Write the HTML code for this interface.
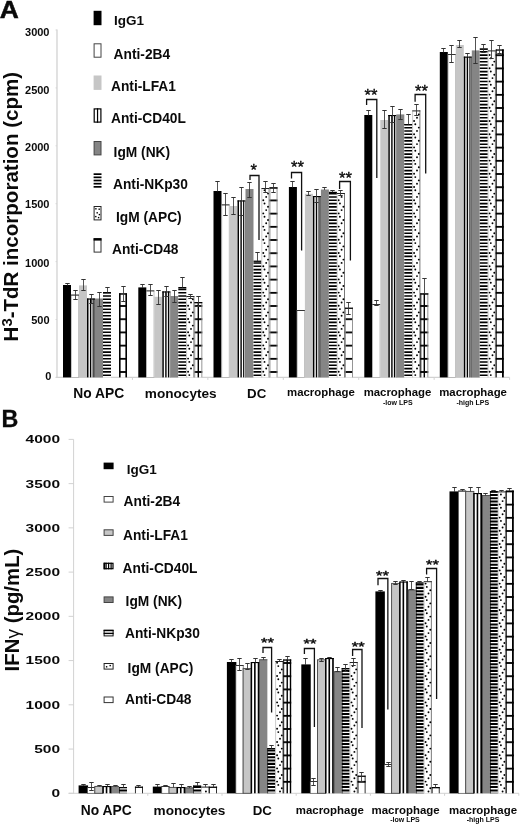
<!DOCTYPE html>
<html lang="en"><head><meta charset="utf-8"><title>Figure</title>
<style>html,body{margin:0;padding:0;background:#fff}svg{display:block}text{font-family:"Liberation Sans", Arial, Helvetica, sans-serif;font-weight:bold;fill:#0a0a0a}</style>
</head><body>
<svg width="520" height="825" viewBox="0 0 520 825">
<rect x="0" y="0" width="520" height="825" fill="#fff"/>
<defs>
<pattern id="hsA" patternUnits="userSpaceOnUse" x="0" y="47.70" width="20" height="3.30"><rect x="0" y="0" width="20" height="3.30" fill="#fff"/><rect x="0" y="0" width="20" height="1.60" fill="#000"/></pattern>
<pattern id="hsB" patternUnits="userSpaceOnUse" x="0" y="583.90" width="20" height="3.32"><rect x="0" y="0" width="20" height="3.32" fill="#fff"/><rect x="0" y="0" width="20" height="2.00" fill="#000"/></pattern>
<pattern id="brA" patternUnits="userSpaceOnUse" x="0" y="54.30" width="20" height="13.2"><rect x="0" y="0" width="20" height="13.2" fill="#fff"/><rect x="0" y="0" width="20" height="1.8" fill="#000"/></pattern>
<pattern id="brB" patternUnits="userSpaceOnUse" x="0" y="503.70" width="20" height="13.2"><rect x="0" y="0" width="20" height="13.2" fill="#fff"/><rect x="0" y="0" width="20" height="1.8" fill="#000"/></pattern>
</defs>
<line x1="57.00" y1="29.60" x2="57.00" y2="377.90" stroke="#d2d2d2" stroke-width="1.30"/>
<line x1="55.80" y1="377.40" x2="509.60" y2="377.40" stroke="#d2d2d2" stroke-width="1.20"/>
<line x1="55.50" y1="377.40" x2="57.00" y2="377.40" stroke="#d2d2d2" stroke-width="0.80"/>
<line x1="55.50" y1="319.50" x2="57.00" y2="319.50" stroke="#d2d2d2" stroke-width="0.80"/>
<line x1="55.50" y1="261.60" x2="57.00" y2="261.60" stroke="#d2d2d2" stroke-width="0.80"/>
<line x1="55.50" y1="203.70" x2="57.00" y2="203.70" stroke="#d2d2d2" stroke-width="0.80"/>
<line x1="55.50" y1="145.80" x2="57.00" y2="145.80" stroke="#d2d2d2" stroke-width="0.80"/>
<line x1="55.50" y1="87.90" x2="57.00" y2="87.90" stroke="#d2d2d2" stroke-width="0.80"/>
<line x1="55.50" y1="30.00" x2="57.00" y2="30.00" stroke="#d2d2d2" stroke-width="0.80"/>
<line x1="132.43" y1="377.40" x2="132.43" y2="379.90" stroke="#d2d2d2" stroke-width="1.00"/>
<line x1="207.86" y1="377.40" x2="207.86" y2="379.90" stroke="#d2d2d2" stroke-width="1.00"/>
<line x1="283.29" y1="377.40" x2="283.29" y2="379.90" stroke="#d2d2d2" stroke-width="1.00"/>
<line x1="358.72" y1="377.40" x2="358.72" y2="379.90" stroke="#d2d2d2" stroke-width="1.00"/>
<line x1="434.15" y1="377.40" x2="434.15" y2="379.90" stroke="#d2d2d2" stroke-width="1.00"/>
<line x1="509.58" y1="377.40" x2="509.58" y2="379.90" stroke="#d2d2d2" stroke-width="1.00"/>
<text x="49.50" y="36.45" font-size="11.00" text-anchor="end">3000</text>
<text x="49.50" y="94.15" font-size="11.00" text-anchor="end">2500</text>
<text x="49.50" y="150.85" font-size="11.00" text-anchor="end">2000</text>
<text x="49.50" y="208.25" font-size="11.00" text-anchor="end">1500</text>
<text x="49.50" y="266.75" font-size="11.00" text-anchor="end">1000</text>
<text x="49.50" y="323.95" font-size="11.00" text-anchor="end">500</text>
<text x="51.40" y="379.95" font-size="11.00" text-anchor="end">0</text>
<text transform="translate(-0.3 18.1) scale(1.09 1)" font-size="24.2" stroke="#0a0a0a" stroke-width="0.5">A</text>
<text transform="translate(18.1 206.7) rotate(-90) scale(1.032 1)" font-size="19.9" text-anchor="middle">H<tspan font-size="14.4" dy="-6.0">3</tspan><tspan dy="6.0">-TdR incorporation (cpm)</tspan></text>
<rect x="93.60" y="10.80" width="7.90" height="14.40" fill="#000"/>
<text x="114.00" y="25.40" font-size="13.50" text-anchor="start">IgG1</text>
<rect x="94.10" y="43.80" width="6.90" height="13.40" fill="#fff" stroke="#444" stroke-width="1.00"/>
<text x="113.60" y="59.00" font-size="13.75" text-anchor="start">Anti-2B4</text>
<rect x="93.60" y="75.50" width="7.90" height="14.40" fill="#c6c6c6"/>
<text x="111.00" y="90.60" font-size="13.75" text-anchor="start">Anti-LFA1</text>
<rect x="94.20" y="108.90" width="6.70" height="13.20" fill="#fff" stroke="#000" stroke-width="1.20"/>
<rect x="96.95" y="108.30" width="1.20" height="14.40" fill="#000"/>
<text x="111.00" y="123.40" font-size="13.75" text-anchor="start">Anti-CD40L</text>
<rect x="94.10" y="141.50" width="6.90" height="13.40" fill="#858585" stroke="#444" stroke-width="1.00"/>
<text x="113.60" y="157.00" font-size="13.75" text-anchor="start">IgM (NK)</text>
<rect x="93.60" y="173.30" width="7.90" height="14.40" fill="#fff"/>
<rect x="93.60" y="173.30" width="7.90" height="1.70" fill="#000"/>
<rect x="93.60" y="176.48" width="7.90" height="1.70" fill="#000"/>
<rect x="93.60" y="179.65" width="7.90" height="1.70" fill="#000"/>
<rect x="93.60" y="182.83" width="7.90" height="1.70" fill="#000"/>
<rect x="93.60" y="186.00" width="7.90" height="1.70" fill="#000"/>
<text x="113.00" y="188.70" font-size="13.75" text-anchor="start">Anti-NKp30</text>
<rect x="94.10" y="206.50" width="6.90" height="13.40" fill="#fff" stroke="#222" stroke-width="1.00"/>
<rect x="95.20" y="208.10" width="1.4" height="1.4" fill="#000"/>
<rect x="98.50" y="208.50" width="1.4" height="1.4" fill="#000"/>
<rect x="96.50" y="212.10" width="1.4" height="1.4" fill="#000"/>
<rect x="98.70" y="213.90" width="1.4" height="1.4" fill="#000"/>
<rect x="95.10" y="215.90" width="1.4" height="1.4" fill="#000"/>
<rect x="97.90" y="216.90" width="1.4" height="1.4" fill="#000"/>
<text x="116.00" y="221.70" font-size="13.75" text-anchor="start">IgM (APC)</text>
<rect x="94.10" y="238.70" width="6.90" height="13.40" fill="#fff" stroke="#333" stroke-width="1.00"/>
<rect x="93.60" y="238.20" width="7.90" height="2.40" fill="#000"/>
<text x="112.00" y="253.60" font-size="13.75" text-anchor="start">Anti-CD48</text>
<rect x="63.00" y="285.00" width="8.00" height="92.40" fill="#000"/>
<rect x="71.30" y="295.00" width="7.40" height="82.40" fill="#fff" stroke="#a8a8a8" stroke-width="0.70"/>
<rect x="71.00" y="294.60" width="8.00" height="1.00" fill="#333"/>
<rect x="79.00" y="285.40" width="8.00" height="92.00" fill="#c6c6c6"/>
<rect x="87.00" y="298.50" width="8.00" height="78.90" fill="#fff"/>
<rect x="87.00" y="298.50" width="1.50" height="78.90" fill="#000"/>
<rect x="89.90" y="298.50" width="1.40" height="78.90" fill="#000"/>
<rect x="92.60" y="298.50" width="1.10" height="78.90" fill="#000"/>
<rect x="94.40" y="298.50" width="0.60" height="78.90" fill="#000"/>
<rect x="87.00" y="298.50" width="8.00" height="1.10" fill="#000"/>
<rect x="95.00" y="298.50" width="8.00" height="78.90" fill="#858585"/>
<rect x="103.00" y="292.00" width="8.00" height="85.40" fill="#fff"/>
<path d="M103.00 292.00h8.00v1.50h-8.00zM103.00 295.20h8.00v1.60h-8.00zM103.00 298.50h8.00v1.60h-8.00zM103.00 301.80h8.00v1.60h-8.00zM103.00 305.10h8.00v1.60h-8.00zM103.00 308.40h8.00v1.60h-8.00zM103.00 311.70h8.00v1.60h-8.00zM103.00 315.00h8.00v1.60h-8.00zM103.00 318.30h8.00v1.60h-8.00zM103.00 321.60h8.00v1.60h-8.00zM103.00 324.90h8.00v1.60h-8.00zM103.00 328.20h8.00v1.60h-8.00zM103.00 331.50h8.00v1.60h-8.00zM103.00 334.80h8.00v1.60h-8.00zM103.00 338.10h8.00v1.60h-8.00zM103.00 341.40h8.00v1.60h-8.00zM103.00 344.70h8.00v1.60h-8.00zM103.00 348.00h8.00v1.60h-8.00zM103.00 351.30h8.00v1.60h-8.00zM103.00 354.60h8.00v1.60h-8.00zM103.00 357.90h8.00v1.60h-8.00zM103.00 361.20h8.00v1.60h-8.00zM103.00 364.50h8.00v1.60h-8.00zM103.00 367.80h8.00v1.60h-8.00zM103.00 371.10h8.00v1.60h-8.00zM103.00 374.40h8.00v1.60h-8.00z" fill="#000"/>
<rect x="103.00" y="292.00" width="8.00" height="1.30" fill="#000"/>
<rect x="119.00" y="293.40" width="8.00" height="84.00" fill="url(#brA)"/>
<rect x="119.00" y="293.40" width="1.60" height="84.00" fill="#000"/>
<rect x="125.40" y="293.40" width="1.60" height="84.00" fill="#000"/>
<rect x="119.00" y="293.40" width="8.00" height="1.30" fill="#000"/>
<rect x="138.30" y="287.40" width="8.00" height="90.00" fill="#000"/>
<rect x="146.60" y="290.80" width="7.40" height="86.60" fill="#fff" stroke="#a8a8a8" stroke-width="0.70"/>
<rect x="146.30" y="290.40" width="8.00" height="1.00" fill="#333"/>
<rect x="154.30" y="296.80" width="8.00" height="80.60" fill="#c6c6c6"/>
<rect x="162.30" y="291.40" width="8.00" height="86.00" fill="#fff"/>
<rect x="162.30" y="291.40" width="1.50" height="86.00" fill="#000"/>
<rect x="165.20" y="291.40" width="1.40" height="86.00" fill="#000"/>
<rect x="167.90" y="291.40" width="1.10" height="86.00" fill="#000"/>
<rect x="169.70" y="291.40" width="0.60" height="86.00" fill="#000"/>
<rect x="162.30" y="291.40" width="8.00" height="1.10" fill="#000"/>
<rect x="170.30" y="296.00" width="8.00" height="81.40" fill="#858585"/>
<rect x="178.30" y="287.00" width="8.00" height="90.40" fill="#fff"/>
<path d="M178.30 288.60h8.00v1.60h-8.00zM178.30 291.90h8.00v1.60h-8.00zM178.30 295.20h8.00v1.60h-8.00zM178.30 298.50h8.00v1.60h-8.00zM178.30 301.80h8.00v1.60h-8.00zM178.30 305.10h8.00v1.60h-8.00zM178.30 308.40h8.00v1.60h-8.00zM178.30 311.70h8.00v1.60h-8.00zM178.30 315.00h8.00v1.60h-8.00zM178.30 318.30h8.00v1.60h-8.00zM178.30 321.60h8.00v1.60h-8.00zM178.30 324.90h8.00v1.60h-8.00zM178.30 328.20h8.00v1.60h-8.00zM178.30 331.50h8.00v1.60h-8.00zM178.30 334.80h8.00v1.60h-8.00zM178.30 338.10h8.00v1.60h-8.00zM178.30 341.40h8.00v1.60h-8.00zM178.30 344.70h8.00v1.60h-8.00zM178.30 348.00h8.00v1.60h-8.00zM178.30 351.30h8.00v1.60h-8.00zM178.30 354.60h8.00v1.60h-8.00zM178.30 357.90h8.00v1.60h-8.00zM178.30 361.20h8.00v1.60h-8.00zM178.30 364.50h8.00v1.60h-8.00zM178.30 367.80h8.00v1.60h-8.00zM178.30 371.10h8.00v1.60h-8.00zM178.30 374.40h8.00v1.60h-8.00z" fill="#000"/>
<rect x="178.30" y="287.00" width="8.00" height="1.30" fill="#000"/>
<rect x="186.30" y="296.00" width="8.00" height="81.40" fill="#fff"/>
<line x1="193.90" y1="296.00" x2="193.90" y2="377.40" stroke="#555" stroke-width="0.80"/>
<line x1="186.60" y1="296.00" x2="186.60" y2="377.40" stroke="#999" stroke-width="0.50"/>
<rect x="186.30" y="296.00" width="8.00" height="1.00" fill="#222"/>
<circle cx="192.80" cy="299.20" r="0.95" fill="#000"/>
<circle cx="191.00" cy="302.50" r="0.95" fill="#000"/>
<circle cx="188.10" cy="305.80" r="0.95" fill="#000"/>
<circle cx="189.30" cy="309.10" r="0.95" fill="#000"/>
<circle cx="192.80" cy="312.40" r="0.95" fill="#000"/>
<circle cx="191.00" cy="315.70" r="0.95" fill="#000"/>
<circle cx="188.10" cy="319.00" r="0.95" fill="#000"/>
<circle cx="189.30" cy="322.30" r="0.95" fill="#000"/>
<circle cx="192.80" cy="325.60" r="0.95" fill="#000"/>
<circle cx="191.00" cy="328.90" r="0.95" fill="#000"/>
<circle cx="188.10" cy="332.20" r="0.95" fill="#000"/>
<circle cx="189.30" cy="335.50" r="0.95" fill="#000"/>
<circle cx="192.80" cy="338.80" r="0.95" fill="#000"/>
<circle cx="191.00" cy="342.10" r="0.95" fill="#000"/>
<circle cx="188.10" cy="345.40" r="0.95" fill="#000"/>
<circle cx="189.30" cy="348.70" r="0.95" fill="#000"/>
<circle cx="192.80" cy="352.00" r="0.95" fill="#000"/>
<circle cx="191.00" cy="355.30" r="0.95" fill="#000"/>
<circle cx="188.10" cy="358.60" r="0.95" fill="#000"/>
<circle cx="189.30" cy="361.90" r="0.95" fill="#000"/>
<circle cx="192.80" cy="365.20" r="0.95" fill="#000"/>
<circle cx="191.00" cy="368.50" r="0.95" fill="#000"/>
<circle cx="188.10" cy="371.80" r="0.95" fill="#000"/>
<circle cx="189.30" cy="375.10" r="0.95" fill="#000"/>
<rect x="194.30" y="302.00" width="8.00" height="75.40" fill="url(#brA)"/>
<rect x="194.30" y="302.00" width="0.90" height="75.40" fill="#8a8a8a"/>
<rect x="201.40" y="302.00" width="0.90" height="75.40" fill="#8a8a8a"/>
<rect x="194.30" y="302.00" width="8.00" height="1.30" fill="#000"/>
<rect x="197.60" y="302.00" width="1.40" height="75.40" fill="#000"/>
<rect x="213.50" y="191.00" width="8.00" height="186.40" fill="#000"/>
<rect x="221.80" y="204.80" width="7.40" height="172.60" fill="#fff" stroke="#a8a8a8" stroke-width="0.70"/>
<rect x="221.50" y="204.40" width="8.00" height="1.00" fill="#333"/>
<rect x="229.50" y="206.00" width="8.00" height="171.40" fill="#c6c6c6"/>
<rect x="237.50" y="200.40" width="8.00" height="177.00" fill="#fff"/>
<rect x="237.50" y="200.40" width="1.50" height="177.00" fill="#000"/>
<rect x="240.40" y="200.40" width="1.40" height="177.00" fill="#000"/>
<rect x="243.10" y="200.40" width="1.10" height="177.00" fill="#000"/>
<rect x="244.90" y="200.40" width="0.60" height="177.00" fill="#000"/>
<rect x="237.50" y="200.40" width="8.00" height="1.10" fill="#000"/>
<rect x="245.50" y="189.00" width="8.00" height="188.40" fill="#858585"/>
<rect x="253.50" y="260.60" width="8.00" height="116.80" fill="#fff"/>
<path d="M253.50 262.20h8.00v1.60h-8.00zM253.50 265.50h8.00v1.60h-8.00zM253.50 268.80h8.00v1.60h-8.00zM253.50 272.10h8.00v1.60h-8.00zM253.50 275.40h8.00v1.60h-8.00zM253.50 278.70h8.00v1.60h-8.00zM253.50 282.00h8.00v1.60h-8.00zM253.50 285.30h8.00v1.60h-8.00zM253.50 288.60h8.00v1.60h-8.00zM253.50 291.90h8.00v1.60h-8.00zM253.50 295.20h8.00v1.60h-8.00zM253.50 298.50h8.00v1.60h-8.00zM253.50 301.80h8.00v1.60h-8.00zM253.50 305.10h8.00v1.60h-8.00zM253.50 308.40h8.00v1.60h-8.00zM253.50 311.70h8.00v1.60h-8.00zM253.50 315.00h8.00v1.60h-8.00zM253.50 318.30h8.00v1.60h-8.00zM253.50 321.60h8.00v1.60h-8.00zM253.50 324.90h8.00v1.60h-8.00zM253.50 328.20h8.00v1.60h-8.00zM253.50 331.50h8.00v1.60h-8.00zM253.50 334.80h8.00v1.60h-8.00zM253.50 338.10h8.00v1.60h-8.00zM253.50 341.40h8.00v1.60h-8.00zM253.50 344.70h8.00v1.60h-8.00zM253.50 348.00h8.00v1.60h-8.00zM253.50 351.30h8.00v1.60h-8.00zM253.50 354.60h8.00v1.60h-8.00zM253.50 357.90h8.00v1.60h-8.00zM253.50 361.20h8.00v1.60h-8.00zM253.50 364.50h8.00v1.60h-8.00zM253.50 367.80h8.00v1.60h-8.00zM253.50 371.10h8.00v1.60h-8.00zM253.50 374.40h8.00v1.60h-8.00z" fill="#000"/>
<rect x="253.50" y="260.60" width="8.00" height="1.30" fill="#000"/>
<rect x="261.50" y="188.00" width="8.00" height="189.40" fill="#fff"/>
<line x1="269.10" y1="188.00" x2="269.10" y2="377.40" stroke="#555" stroke-width="0.80"/>
<line x1="261.80" y1="188.00" x2="261.80" y2="377.40" stroke="#999" stroke-width="0.50"/>
<rect x="261.50" y="188.00" width="8.00" height="1.00" fill="#222"/>
<circle cx="264.50" cy="190.30" r="0.95" fill="#000"/>
<circle cx="268.00" cy="193.60" r="0.95" fill="#000"/>
<circle cx="266.20" cy="196.90" r="0.95" fill="#000"/>
<circle cx="263.30" cy="200.20" r="0.95" fill="#000"/>
<circle cx="264.50" cy="203.50" r="0.95" fill="#000"/>
<circle cx="268.00" cy="206.80" r="0.95" fill="#000"/>
<circle cx="266.20" cy="210.10" r="0.95" fill="#000"/>
<circle cx="263.30" cy="213.40" r="0.95" fill="#000"/>
<circle cx="264.50" cy="216.70" r="0.95" fill="#000"/>
<circle cx="268.00" cy="220.00" r="0.95" fill="#000"/>
<circle cx="266.20" cy="223.30" r="0.95" fill="#000"/>
<circle cx="263.30" cy="226.60" r="0.95" fill="#000"/>
<circle cx="264.50" cy="229.90" r="0.95" fill="#000"/>
<circle cx="268.00" cy="233.20" r="0.95" fill="#000"/>
<circle cx="266.20" cy="236.50" r="0.95" fill="#000"/>
<circle cx="263.30" cy="239.80" r="0.95" fill="#000"/>
<circle cx="264.50" cy="243.10" r="0.95" fill="#000"/>
<circle cx="268.00" cy="246.40" r="0.95" fill="#000"/>
<circle cx="266.20" cy="249.70" r="0.95" fill="#000"/>
<circle cx="263.30" cy="253.00" r="0.95" fill="#000"/>
<circle cx="264.50" cy="256.30" r="0.95" fill="#000"/>
<circle cx="268.00" cy="259.60" r="0.95" fill="#000"/>
<circle cx="266.20" cy="262.90" r="0.95" fill="#000"/>
<circle cx="263.30" cy="266.20" r="0.95" fill="#000"/>
<circle cx="264.50" cy="269.50" r="0.95" fill="#000"/>
<circle cx="268.00" cy="272.80" r="0.95" fill="#000"/>
<circle cx="266.20" cy="276.10" r="0.95" fill="#000"/>
<circle cx="263.30" cy="279.40" r="0.95" fill="#000"/>
<circle cx="264.50" cy="282.70" r="0.95" fill="#000"/>
<circle cx="268.00" cy="286.00" r="0.95" fill="#000"/>
<circle cx="266.20" cy="289.30" r="0.95" fill="#000"/>
<circle cx="263.30" cy="292.60" r="0.95" fill="#000"/>
<circle cx="264.50" cy="295.90" r="0.95" fill="#000"/>
<circle cx="268.00" cy="299.20" r="0.95" fill="#000"/>
<circle cx="266.20" cy="302.50" r="0.95" fill="#000"/>
<circle cx="263.30" cy="305.80" r="0.95" fill="#000"/>
<circle cx="264.50" cy="309.10" r="0.95" fill="#000"/>
<circle cx="268.00" cy="312.40" r="0.95" fill="#000"/>
<circle cx="266.20" cy="315.70" r="0.95" fill="#000"/>
<circle cx="263.30" cy="319.00" r="0.95" fill="#000"/>
<circle cx="264.50" cy="322.30" r="0.95" fill="#000"/>
<circle cx="268.00" cy="325.60" r="0.95" fill="#000"/>
<circle cx="266.20" cy="328.90" r="0.95" fill="#000"/>
<circle cx="263.30" cy="332.20" r="0.95" fill="#000"/>
<circle cx="264.50" cy="335.50" r="0.95" fill="#000"/>
<circle cx="268.00" cy="338.80" r="0.95" fill="#000"/>
<circle cx="266.20" cy="342.10" r="0.95" fill="#000"/>
<circle cx="263.30" cy="345.40" r="0.95" fill="#000"/>
<circle cx="264.50" cy="348.70" r="0.95" fill="#000"/>
<circle cx="268.00" cy="352.00" r="0.95" fill="#000"/>
<circle cx="266.20" cy="355.30" r="0.95" fill="#000"/>
<circle cx="263.30" cy="358.60" r="0.95" fill="#000"/>
<circle cx="264.50" cy="361.90" r="0.95" fill="#000"/>
<circle cx="268.00" cy="365.20" r="0.95" fill="#000"/>
<circle cx="266.20" cy="368.50" r="0.95" fill="#000"/>
<circle cx="263.30" cy="371.80" r="0.95" fill="#000"/>
<circle cx="264.50" cy="375.10" r="0.95" fill="#000"/>
<rect x="269.50" y="187.40" width="8.00" height="190.00" fill="url(#brA)"/>
<rect x="269.50" y="187.40" width="0.90" height="190.00" fill="#8a8a8a"/>
<rect x="276.60" y="187.40" width="0.90" height="190.00" fill="#8a8a8a"/>
<rect x="269.50" y="187.40" width="8.00" height="1.30" fill="#000"/>
<rect x="288.90" y="187.00" width="8.00" height="190.40" fill="#000"/>
<rect x="297.20" y="310.40" width="7.40" height="67.00" fill="#fff" stroke="#a8a8a8" stroke-width="0.70"/>
<rect x="296.90" y="310.00" width="8.00" height="1.00" fill="#333"/>
<rect x="304.90" y="193.80" width="8.00" height="183.60" fill="#c6c6c6"/>
<rect x="312.90" y="196.00" width="8.00" height="181.40" fill="#fff"/>
<rect x="312.90" y="196.00" width="1.50" height="181.40" fill="#000"/>
<rect x="315.80" y="196.00" width="1.40" height="181.40" fill="#000"/>
<rect x="318.50" y="196.00" width="1.10" height="181.40" fill="#000"/>
<rect x="320.30" y="196.00" width="0.60" height="181.40" fill="#000"/>
<rect x="312.90" y="196.00" width="8.00" height="1.10" fill="#000"/>
<rect x="320.90" y="189.50" width="8.00" height="187.90" fill="#858585"/>
<rect x="328.90" y="191.80" width="8.00" height="185.60" fill="#fff"/>
<path d="M328.90 192.90h8.00v1.60h-8.00zM328.90 196.20h8.00v1.60h-8.00zM328.90 199.50h8.00v1.60h-8.00zM328.90 202.80h8.00v1.60h-8.00zM328.90 206.10h8.00v1.60h-8.00zM328.90 209.40h8.00v1.60h-8.00zM328.90 212.70h8.00v1.60h-8.00zM328.90 216.00h8.00v1.60h-8.00zM328.90 219.30h8.00v1.60h-8.00zM328.90 222.60h8.00v1.60h-8.00zM328.90 225.90h8.00v1.60h-8.00zM328.90 229.20h8.00v1.60h-8.00zM328.90 232.50h8.00v1.60h-8.00zM328.90 235.80h8.00v1.60h-8.00zM328.90 239.10h8.00v1.60h-8.00zM328.90 242.40h8.00v1.60h-8.00zM328.90 245.70h8.00v1.60h-8.00zM328.90 249.00h8.00v1.60h-8.00zM328.90 252.30h8.00v1.60h-8.00zM328.90 255.60h8.00v1.60h-8.00zM328.90 258.90h8.00v1.60h-8.00zM328.90 262.20h8.00v1.60h-8.00zM328.90 265.50h8.00v1.60h-8.00zM328.90 268.80h8.00v1.60h-8.00zM328.90 272.10h8.00v1.60h-8.00zM328.90 275.40h8.00v1.60h-8.00zM328.90 278.70h8.00v1.60h-8.00zM328.90 282.00h8.00v1.60h-8.00zM328.90 285.30h8.00v1.60h-8.00zM328.90 288.60h8.00v1.60h-8.00zM328.90 291.90h8.00v1.60h-8.00zM328.90 295.20h8.00v1.60h-8.00zM328.90 298.50h8.00v1.60h-8.00zM328.90 301.80h8.00v1.60h-8.00zM328.90 305.10h8.00v1.60h-8.00zM328.90 308.40h8.00v1.60h-8.00zM328.90 311.70h8.00v1.60h-8.00zM328.90 315.00h8.00v1.60h-8.00zM328.90 318.30h8.00v1.60h-8.00zM328.90 321.60h8.00v1.60h-8.00zM328.90 324.90h8.00v1.60h-8.00zM328.90 328.20h8.00v1.60h-8.00zM328.90 331.50h8.00v1.60h-8.00zM328.90 334.80h8.00v1.60h-8.00zM328.90 338.10h8.00v1.60h-8.00zM328.90 341.40h8.00v1.60h-8.00zM328.90 344.70h8.00v1.60h-8.00zM328.90 348.00h8.00v1.60h-8.00zM328.90 351.30h8.00v1.60h-8.00zM328.90 354.60h8.00v1.60h-8.00zM328.90 357.90h8.00v1.60h-8.00zM328.90 361.20h8.00v1.60h-8.00zM328.90 364.50h8.00v1.60h-8.00zM328.90 367.80h8.00v1.60h-8.00zM328.90 371.10h8.00v1.60h-8.00zM328.90 374.40h8.00v1.60h-8.00z" fill="#000"/>
<rect x="328.90" y="191.80" width="8.00" height="1.30" fill="#000"/>
<rect x="336.90" y="193.00" width="8.00" height="184.40" fill="#fff"/>
<line x1="344.50" y1="193.00" x2="344.50" y2="377.40" stroke="#555" stroke-width="0.80"/>
<line x1="337.20" y1="193.00" x2="337.20" y2="377.40" stroke="#999" stroke-width="0.50"/>
<rect x="336.90" y="193.00" width="8.00" height="1.00" fill="#222"/>
<circle cx="341.60" cy="196.90" r="0.95" fill="#000"/>
<circle cx="338.70" cy="200.20" r="0.95" fill="#000"/>
<circle cx="339.90" cy="203.50" r="0.95" fill="#000"/>
<circle cx="343.40" cy="206.80" r="0.95" fill="#000"/>
<circle cx="341.60" cy="210.10" r="0.95" fill="#000"/>
<circle cx="338.70" cy="213.40" r="0.95" fill="#000"/>
<circle cx="339.90" cy="216.70" r="0.95" fill="#000"/>
<circle cx="343.40" cy="220.00" r="0.95" fill="#000"/>
<circle cx="341.60" cy="223.30" r="0.95" fill="#000"/>
<circle cx="338.70" cy="226.60" r="0.95" fill="#000"/>
<circle cx="339.90" cy="229.90" r="0.95" fill="#000"/>
<circle cx="343.40" cy="233.20" r="0.95" fill="#000"/>
<circle cx="341.60" cy="236.50" r="0.95" fill="#000"/>
<circle cx="338.70" cy="239.80" r="0.95" fill="#000"/>
<circle cx="339.90" cy="243.10" r="0.95" fill="#000"/>
<circle cx="343.40" cy="246.40" r="0.95" fill="#000"/>
<circle cx="341.60" cy="249.70" r="0.95" fill="#000"/>
<circle cx="338.70" cy="253.00" r="0.95" fill="#000"/>
<circle cx="339.90" cy="256.30" r="0.95" fill="#000"/>
<circle cx="343.40" cy="259.60" r="0.95" fill="#000"/>
<circle cx="341.60" cy="262.90" r="0.95" fill="#000"/>
<circle cx="338.70" cy="266.20" r="0.95" fill="#000"/>
<circle cx="339.90" cy="269.50" r="0.95" fill="#000"/>
<circle cx="343.40" cy="272.80" r="0.95" fill="#000"/>
<circle cx="341.60" cy="276.10" r="0.95" fill="#000"/>
<circle cx="338.70" cy="279.40" r="0.95" fill="#000"/>
<circle cx="339.90" cy="282.70" r="0.95" fill="#000"/>
<circle cx="343.40" cy="286.00" r="0.95" fill="#000"/>
<circle cx="341.60" cy="289.30" r="0.95" fill="#000"/>
<circle cx="338.70" cy="292.60" r="0.95" fill="#000"/>
<circle cx="339.90" cy="295.90" r="0.95" fill="#000"/>
<circle cx="343.40" cy="299.20" r="0.95" fill="#000"/>
<circle cx="341.60" cy="302.50" r="0.95" fill="#000"/>
<circle cx="338.70" cy="305.80" r="0.95" fill="#000"/>
<circle cx="339.90" cy="309.10" r="0.95" fill="#000"/>
<circle cx="343.40" cy="312.40" r="0.95" fill="#000"/>
<circle cx="341.60" cy="315.70" r="0.95" fill="#000"/>
<circle cx="338.70" cy="319.00" r="0.95" fill="#000"/>
<circle cx="339.90" cy="322.30" r="0.95" fill="#000"/>
<circle cx="343.40" cy="325.60" r="0.95" fill="#000"/>
<circle cx="341.60" cy="328.90" r="0.95" fill="#000"/>
<circle cx="338.70" cy="332.20" r="0.95" fill="#000"/>
<circle cx="339.90" cy="335.50" r="0.95" fill="#000"/>
<circle cx="343.40" cy="338.80" r="0.95" fill="#000"/>
<circle cx="341.60" cy="342.10" r="0.95" fill="#000"/>
<circle cx="338.70" cy="345.40" r="0.95" fill="#000"/>
<circle cx="339.90" cy="348.70" r="0.95" fill="#000"/>
<circle cx="343.40" cy="352.00" r="0.95" fill="#000"/>
<circle cx="341.60" cy="355.30" r="0.95" fill="#000"/>
<circle cx="338.70" cy="358.60" r="0.95" fill="#000"/>
<circle cx="339.90" cy="361.90" r="0.95" fill="#000"/>
<circle cx="343.40" cy="365.20" r="0.95" fill="#000"/>
<circle cx="341.60" cy="368.50" r="0.95" fill="#000"/>
<circle cx="338.70" cy="371.80" r="0.95" fill="#000"/>
<circle cx="339.90" cy="375.10" r="0.95" fill="#000"/>
<rect x="344.90" y="307.60" width="8.00" height="69.80" fill="url(#brA)"/>
<rect x="344.90" y="307.60" width="0.90" height="69.80" fill="#8a8a8a"/>
<rect x="352.00" y="307.60" width="0.90" height="69.80" fill="#8a8a8a"/>
<rect x="344.90" y="307.60" width="8.00" height="1.30" fill="#000"/>
<rect x="364.30" y="115.00" width="8.00" height="262.40" fill="#000"/>
<rect x="372.60" y="304.40" width="7.40" height="73.00" fill="#fff" stroke="#a8a8a8" stroke-width="0.70"/>
<rect x="372.30" y="304.00" width="8.00" height="1.00" fill="#333"/>
<rect x="380.30" y="120.00" width="8.00" height="257.40" fill="#c6c6c6"/>
<rect x="388.30" y="115.00" width="8.00" height="262.40" fill="#fff"/>
<rect x="388.30" y="115.00" width="1.50" height="262.40" fill="#000"/>
<rect x="391.20" y="115.00" width="1.40" height="262.40" fill="#000"/>
<rect x="393.90" y="115.00" width="1.10" height="262.40" fill="#000"/>
<rect x="395.70" y="115.00" width="0.60" height="262.40" fill="#000"/>
<rect x="388.30" y="115.00" width="8.00" height="1.10" fill="#000"/>
<rect x="396.30" y="114.40" width="8.00" height="263.00" fill="#858585"/>
<rect x="404.30" y="124.00" width="8.00" height="253.40" fill="#fff"/>
<path d="M404.30 124.00h8.00v1.20h-8.00zM404.30 126.90h8.00v1.60h-8.00zM404.30 130.20h8.00v1.60h-8.00zM404.30 133.50h8.00v1.60h-8.00zM404.30 136.80h8.00v1.60h-8.00zM404.30 140.10h8.00v1.60h-8.00zM404.30 143.40h8.00v1.60h-8.00zM404.30 146.70h8.00v1.60h-8.00zM404.30 150.00h8.00v1.60h-8.00zM404.30 153.30h8.00v1.60h-8.00zM404.30 156.60h8.00v1.60h-8.00zM404.30 159.90h8.00v1.60h-8.00zM404.30 163.20h8.00v1.60h-8.00zM404.30 166.50h8.00v1.60h-8.00zM404.30 169.80h8.00v1.60h-8.00zM404.30 173.10h8.00v1.60h-8.00zM404.30 176.40h8.00v1.60h-8.00zM404.30 179.70h8.00v1.60h-8.00zM404.30 183.00h8.00v1.60h-8.00zM404.30 186.30h8.00v1.60h-8.00zM404.30 189.60h8.00v1.60h-8.00zM404.30 192.90h8.00v1.60h-8.00zM404.30 196.20h8.00v1.60h-8.00zM404.30 199.50h8.00v1.60h-8.00zM404.30 202.80h8.00v1.60h-8.00zM404.30 206.10h8.00v1.60h-8.00zM404.30 209.40h8.00v1.60h-8.00zM404.30 212.70h8.00v1.60h-8.00zM404.30 216.00h8.00v1.60h-8.00zM404.30 219.30h8.00v1.60h-8.00zM404.30 222.60h8.00v1.60h-8.00zM404.30 225.90h8.00v1.60h-8.00zM404.30 229.20h8.00v1.60h-8.00zM404.30 232.50h8.00v1.60h-8.00zM404.30 235.80h8.00v1.60h-8.00zM404.30 239.10h8.00v1.60h-8.00zM404.30 242.40h8.00v1.60h-8.00zM404.30 245.70h8.00v1.60h-8.00zM404.30 249.00h8.00v1.60h-8.00zM404.30 252.30h8.00v1.60h-8.00zM404.30 255.60h8.00v1.60h-8.00zM404.30 258.90h8.00v1.60h-8.00zM404.30 262.20h8.00v1.60h-8.00zM404.30 265.50h8.00v1.60h-8.00zM404.30 268.80h8.00v1.60h-8.00zM404.30 272.10h8.00v1.60h-8.00zM404.30 275.40h8.00v1.60h-8.00zM404.30 278.70h8.00v1.60h-8.00zM404.30 282.00h8.00v1.60h-8.00zM404.30 285.30h8.00v1.60h-8.00zM404.30 288.60h8.00v1.60h-8.00zM404.30 291.90h8.00v1.60h-8.00zM404.30 295.20h8.00v1.60h-8.00zM404.30 298.50h8.00v1.60h-8.00zM404.30 301.80h8.00v1.60h-8.00zM404.30 305.10h8.00v1.60h-8.00zM404.30 308.40h8.00v1.60h-8.00zM404.30 311.70h8.00v1.60h-8.00zM404.30 315.00h8.00v1.60h-8.00zM404.30 318.30h8.00v1.60h-8.00zM404.30 321.60h8.00v1.60h-8.00zM404.30 324.90h8.00v1.60h-8.00zM404.30 328.20h8.00v1.60h-8.00zM404.30 331.50h8.00v1.60h-8.00zM404.30 334.80h8.00v1.60h-8.00zM404.30 338.10h8.00v1.60h-8.00zM404.30 341.40h8.00v1.60h-8.00zM404.30 344.70h8.00v1.60h-8.00zM404.30 348.00h8.00v1.60h-8.00zM404.30 351.30h8.00v1.60h-8.00zM404.30 354.60h8.00v1.60h-8.00zM404.30 357.90h8.00v1.60h-8.00zM404.30 361.20h8.00v1.60h-8.00zM404.30 364.50h8.00v1.60h-8.00zM404.30 367.80h8.00v1.60h-8.00zM404.30 371.10h8.00v1.60h-8.00zM404.30 374.40h8.00v1.60h-8.00z" fill="#000"/>
<rect x="404.30" y="124.00" width="8.00" height="1.30" fill="#000"/>
<rect x="412.30" y="110.40" width="8.00" height="267.00" fill="#fff"/>
<line x1="419.90" y1="110.40" x2="419.90" y2="377.40" stroke="#555" stroke-width="0.80"/>
<line x1="412.60" y1="110.40" x2="412.60" y2="377.40" stroke="#999" stroke-width="0.50"/>
<rect x="412.30" y="110.40" width="8.00" height="1.00" fill="#222"/>
<circle cx="418.80" cy="114.40" r="0.95" fill="#000"/>
<circle cx="417.00" cy="117.70" r="0.95" fill="#000"/>
<circle cx="414.10" cy="121.00" r="0.95" fill="#000"/>
<circle cx="415.30" cy="124.30" r="0.95" fill="#000"/>
<circle cx="418.80" cy="127.60" r="0.95" fill="#000"/>
<circle cx="417.00" cy="130.90" r="0.95" fill="#000"/>
<circle cx="414.10" cy="134.20" r="0.95" fill="#000"/>
<circle cx="415.30" cy="137.50" r="0.95" fill="#000"/>
<circle cx="418.80" cy="140.80" r="0.95" fill="#000"/>
<circle cx="417.00" cy="144.10" r="0.95" fill="#000"/>
<circle cx="414.10" cy="147.40" r="0.95" fill="#000"/>
<circle cx="415.30" cy="150.70" r="0.95" fill="#000"/>
<circle cx="418.80" cy="154.00" r="0.95" fill="#000"/>
<circle cx="417.00" cy="157.30" r="0.95" fill="#000"/>
<circle cx="414.10" cy="160.60" r="0.95" fill="#000"/>
<circle cx="415.30" cy="163.90" r="0.95" fill="#000"/>
<circle cx="418.80" cy="167.20" r="0.95" fill="#000"/>
<circle cx="417.00" cy="170.50" r="0.95" fill="#000"/>
<circle cx="414.10" cy="173.80" r="0.95" fill="#000"/>
<circle cx="415.30" cy="177.10" r="0.95" fill="#000"/>
<circle cx="418.80" cy="180.40" r="0.95" fill="#000"/>
<circle cx="417.00" cy="183.70" r="0.95" fill="#000"/>
<circle cx="414.10" cy="187.00" r="0.95" fill="#000"/>
<circle cx="415.30" cy="190.30" r="0.95" fill="#000"/>
<circle cx="418.80" cy="193.60" r="0.95" fill="#000"/>
<circle cx="417.00" cy="196.90" r="0.95" fill="#000"/>
<circle cx="414.10" cy="200.20" r="0.95" fill="#000"/>
<circle cx="415.30" cy="203.50" r="0.95" fill="#000"/>
<circle cx="418.80" cy="206.80" r="0.95" fill="#000"/>
<circle cx="417.00" cy="210.10" r="0.95" fill="#000"/>
<circle cx="414.10" cy="213.40" r="0.95" fill="#000"/>
<circle cx="415.30" cy="216.70" r="0.95" fill="#000"/>
<circle cx="418.80" cy="220.00" r="0.95" fill="#000"/>
<circle cx="417.00" cy="223.30" r="0.95" fill="#000"/>
<circle cx="414.10" cy="226.60" r="0.95" fill="#000"/>
<circle cx="415.30" cy="229.90" r="0.95" fill="#000"/>
<circle cx="418.80" cy="233.20" r="0.95" fill="#000"/>
<circle cx="417.00" cy="236.50" r="0.95" fill="#000"/>
<circle cx="414.10" cy="239.80" r="0.95" fill="#000"/>
<circle cx="415.30" cy="243.10" r="0.95" fill="#000"/>
<circle cx="418.80" cy="246.40" r="0.95" fill="#000"/>
<circle cx="417.00" cy="249.70" r="0.95" fill="#000"/>
<circle cx="414.10" cy="253.00" r="0.95" fill="#000"/>
<circle cx="415.30" cy="256.30" r="0.95" fill="#000"/>
<circle cx="418.80" cy="259.60" r="0.95" fill="#000"/>
<circle cx="417.00" cy="262.90" r="0.95" fill="#000"/>
<circle cx="414.10" cy="266.20" r="0.95" fill="#000"/>
<circle cx="415.30" cy="269.50" r="0.95" fill="#000"/>
<circle cx="418.80" cy="272.80" r="0.95" fill="#000"/>
<circle cx="417.00" cy="276.10" r="0.95" fill="#000"/>
<circle cx="414.10" cy="279.40" r="0.95" fill="#000"/>
<circle cx="415.30" cy="282.70" r="0.95" fill="#000"/>
<circle cx="418.80" cy="286.00" r="0.95" fill="#000"/>
<circle cx="417.00" cy="289.30" r="0.95" fill="#000"/>
<circle cx="414.10" cy="292.60" r="0.95" fill="#000"/>
<circle cx="415.30" cy="295.90" r="0.95" fill="#000"/>
<circle cx="418.80" cy="299.20" r="0.95" fill="#000"/>
<circle cx="417.00" cy="302.50" r="0.95" fill="#000"/>
<circle cx="414.10" cy="305.80" r="0.95" fill="#000"/>
<circle cx="415.30" cy="309.10" r="0.95" fill="#000"/>
<circle cx="418.80" cy="312.40" r="0.95" fill="#000"/>
<circle cx="417.00" cy="315.70" r="0.95" fill="#000"/>
<circle cx="414.10" cy="319.00" r="0.95" fill="#000"/>
<circle cx="415.30" cy="322.30" r="0.95" fill="#000"/>
<circle cx="418.80" cy="325.60" r="0.95" fill="#000"/>
<circle cx="417.00" cy="328.90" r="0.95" fill="#000"/>
<circle cx="414.10" cy="332.20" r="0.95" fill="#000"/>
<circle cx="415.30" cy="335.50" r="0.95" fill="#000"/>
<circle cx="418.80" cy="338.80" r="0.95" fill="#000"/>
<circle cx="417.00" cy="342.10" r="0.95" fill="#000"/>
<circle cx="414.10" cy="345.40" r="0.95" fill="#000"/>
<circle cx="415.30" cy="348.70" r="0.95" fill="#000"/>
<circle cx="418.80" cy="352.00" r="0.95" fill="#000"/>
<circle cx="417.00" cy="355.30" r="0.95" fill="#000"/>
<circle cx="414.10" cy="358.60" r="0.95" fill="#000"/>
<circle cx="415.30" cy="361.90" r="0.95" fill="#000"/>
<circle cx="418.80" cy="365.20" r="0.95" fill="#000"/>
<circle cx="417.00" cy="368.50" r="0.95" fill="#000"/>
<circle cx="414.10" cy="371.80" r="0.95" fill="#000"/>
<circle cx="415.30" cy="375.10" r="0.95" fill="#000"/>
<rect x="420.30" y="293.40" width="8.00" height="84.00" fill="url(#brA)"/>
<rect x="420.30" y="293.40" width="1.00" height="84.00" fill="#000"/>
<rect x="427.40" y="293.40" width="0.90" height="84.00" fill="#8a8a8a"/>
<rect x="420.30" y="293.40" width="8.00" height="1.30" fill="#000"/>
<rect x="423.60" y="293.40" width="1.40" height="84.00" fill="#000"/>
<rect x="439.80" y="52.00" width="8.00" height="325.40" fill="#000"/>
<rect x="448.10" y="54.40" width="7.40" height="323.00" fill="#fff" stroke="#a8a8a8" stroke-width="0.70"/>
<rect x="447.80" y="54.00" width="8.00" height="1.00" fill="#333"/>
<rect x="455.80" y="45.00" width="8.00" height="332.40" fill="#c6c6c6"/>
<rect x="463.80" y="56.60" width="8.00" height="320.80" fill="#fff"/>
<rect x="463.80" y="56.60" width="1.50" height="320.80" fill="#000"/>
<rect x="466.70" y="56.60" width="1.40" height="320.80" fill="#000"/>
<rect x="469.40" y="56.60" width="1.10" height="320.80" fill="#000"/>
<rect x="471.20" y="56.60" width="0.60" height="320.80" fill="#000"/>
<rect x="463.80" y="56.60" width="8.00" height="1.10" fill="#000"/>
<rect x="471.80" y="50.40" width="8.00" height="327.00" fill="#858585"/>
<rect x="479.80" y="48.60" width="8.00" height="328.80" fill="#fff"/>
<path d="M479.80 48.60h8.00v0.70h-8.00zM479.80 51.00h8.00v1.60h-8.00zM479.80 54.30h8.00v1.60h-8.00zM479.80 57.60h8.00v1.60h-8.00zM479.80 60.90h8.00v1.60h-8.00zM479.80 64.20h8.00v1.60h-8.00zM479.80 67.50h8.00v1.60h-8.00zM479.80 70.80h8.00v1.60h-8.00zM479.80 74.10h8.00v1.60h-8.00zM479.80 77.40h8.00v1.60h-8.00zM479.80 80.70h8.00v1.60h-8.00zM479.80 84.00h8.00v1.60h-8.00zM479.80 87.30h8.00v1.60h-8.00zM479.80 90.60h8.00v1.60h-8.00zM479.80 93.90h8.00v1.60h-8.00zM479.80 97.20h8.00v1.60h-8.00zM479.80 100.50h8.00v1.60h-8.00zM479.80 103.80h8.00v1.60h-8.00zM479.80 107.10h8.00v1.60h-8.00zM479.80 110.40h8.00v1.60h-8.00zM479.80 113.70h8.00v1.60h-8.00zM479.80 117.00h8.00v1.60h-8.00zM479.80 120.30h8.00v1.60h-8.00zM479.80 123.60h8.00v1.60h-8.00zM479.80 126.90h8.00v1.60h-8.00zM479.80 130.20h8.00v1.60h-8.00zM479.80 133.50h8.00v1.60h-8.00zM479.80 136.80h8.00v1.60h-8.00zM479.80 140.10h8.00v1.60h-8.00zM479.80 143.40h8.00v1.60h-8.00zM479.80 146.70h8.00v1.60h-8.00zM479.80 150.00h8.00v1.60h-8.00zM479.80 153.30h8.00v1.60h-8.00zM479.80 156.60h8.00v1.60h-8.00zM479.80 159.90h8.00v1.60h-8.00zM479.80 163.20h8.00v1.60h-8.00zM479.80 166.50h8.00v1.60h-8.00zM479.80 169.80h8.00v1.60h-8.00zM479.80 173.10h8.00v1.60h-8.00zM479.80 176.40h8.00v1.60h-8.00zM479.80 179.70h8.00v1.60h-8.00zM479.80 183.00h8.00v1.60h-8.00zM479.80 186.30h8.00v1.60h-8.00zM479.80 189.60h8.00v1.60h-8.00zM479.80 192.90h8.00v1.60h-8.00zM479.80 196.20h8.00v1.60h-8.00zM479.80 199.50h8.00v1.60h-8.00zM479.80 202.80h8.00v1.60h-8.00zM479.80 206.10h8.00v1.60h-8.00zM479.80 209.40h8.00v1.60h-8.00zM479.80 212.70h8.00v1.60h-8.00zM479.80 216.00h8.00v1.60h-8.00zM479.80 219.30h8.00v1.60h-8.00zM479.80 222.60h8.00v1.60h-8.00zM479.80 225.90h8.00v1.60h-8.00zM479.80 229.20h8.00v1.60h-8.00zM479.80 232.50h8.00v1.60h-8.00zM479.80 235.80h8.00v1.60h-8.00zM479.80 239.10h8.00v1.60h-8.00zM479.80 242.40h8.00v1.60h-8.00zM479.80 245.70h8.00v1.60h-8.00zM479.80 249.00h8.00v1.60h-8.00zM479.80 252.30h8.00v1.60h-8.00zM479.80 255.60h8.00v1.60h-8.00zM479.80 258.90h8.00v1.60h-8.00zM479.80 262.20h8.00v1.60h-8.00zM479.80 265.50h8.00v1.60h-8.00zM479.80 268.80h8.00v1.60h-8.00zM479.80 272.10h8.00v1.60h-8.00zM479.80 275.40h8.00v1.60h-8.00zM479.80 278.70h8.00v1.60h-8.00zM479.80 282.00h8.00v1.60h-8.00zM479.80 285.30h8.00v1.60h-8.00zM479.80 288.60h8.00v1.60h-8.00zM479.80 291.90h8.00v1.60h-8.00zM479.80 295.20h8.00v1.60h-8.00zM479.80 298.50h8.00v1.60h-8.00zM479.80 301.80h8.00v1.60h-8.00zM479.80 305.10h8.00v1.60h-8.00zM479.80 308.40h8.00v1.60h-8.00zM479.80 311.70h8.00v1.60h-8.00zM479.80 315.00h8.00v1.60h-8.00zM479.80 318.30h8.00v1.60h-8.00zM479.80 321.60h8.00v1.60h-8.00zM479.80 324.90h8.00v1.60h-8.00zM479.80 328.20h8.00v1.60h-8.00zM479.80 331.50h8.00v1.60h-8.00zM479.80 334.80h8.00v1.60h-8.00zM479.80 338.10h8.00v1.60h-8.00zM479.80 341.40h8.00v1.60h-8.00zM479.80 344.70h8.00v1.60h-8.00zM479.80 348.00h8.00v1.60h-8.00zM479.80 351.30h8.00v1.60h-8.00zM479.80 354.60h8.00v1.60h-8.00zM479.80 357.90h8.00v1.60h-8.00zM479.80 361.20h8.00v1.60h-8.00zM479.80 364.50h8.00v1.60h-8.00zM479.80 367.80h8.00v1.60h-8.00zM479.80 371.10h8.00v1.60h-8.00zM479.80 374.40h8.00v1.60h-8.00z" fill="#000"/>
<rect x="479.80" y="48.60" width="8.00" height="1.30" fill="#000"/>
<rect x="487.80" y="50.40" width="8.00" height="327.00" fill="#fff"/>
<line x1="495.40" y1="50.40" x2="495.40" y2="377.40" stroke="#555" stroke-width="0.80"/>
<line x1="488.10" y1="50.40" x2="488.10" y2="377.40" stroke="#999" stroke-width="0.50"/>
<rect x="487.80" y="50.40" width="8.00" height="1.00" fill="#222"/>
<circle cx="489.60" cy="55.00" r="0.95" fill="#000"/>
<circle cx="490.80" cy="58.30" r="0.95" fill="#000"/>
<circle cx="494.30" cy="61.60" r="0.95" fill="#000"/>
<circle cx="492.50" cy="64.90" r="0.95" fill="#000"/>
<circle cx="489.60" cy="68.20" r="0.95" fill="#000"/>
<circle cx="490.80" cy="71.50" r="0.95" fill="#000"/>
<circle cx="494.30" cy="74.80" r="0.95" fill="#000"/>
<circle cx="492.50" cy="78.10" r="0.95" fill="#000"/>
<circle cx="489.60" cy="81.40" r="0.95" fill="#000"/>
<circle cx="490.80" cy="84.70" r="0.95" fill="#000"/>
<circle cx="494.30" cy="88.00" r="0.95" fill="#000"/>
<circle cx="492.50" cy="91.30" r="0.95" fill="#000"/>
<circle cx="489.60" cy="94.60" r="0.95" fill="#000"/>
<circle cx="490.80" cy="97.90" r="0.95" fill="#000"/>
<circle cx="494.30" cy="101.20" r="0.95" fill="#000"/>
<circle cx="492.50" cy="104.50" r="0.95" fill="#000"/>
<circle cx="489.60" cy="107.80" r="0.95" fill="#000"/>
<circle cx="490.80" cy="111.10" r="0.95" fill="#000"/>
<circle cx="494.30" cy="114.40" r="0.95" fill="#000"/>
<circle cx="492.50" cy="117.70" r="0.95" fill="#000"/>
<circle cx="489.60" cy="121.00" r="0.95" fill="#000"/>
<circle cx="490.80" cy="124.30" r="0.95" fill="#000"/>
<circle cx="494.30" cy="127.60" r="0.95" fill="#000"/>
<circle cx="492.50" cy="130.90" r="0.95" fill="#000"/>
<circle cx="489.60" cy="134.20" r="0.95" fill="#000"/>
<circle cx="490.80" cy="137.50" r="0.95" fill="#000"/>
<circle cx="494.30" cy="140.80" r="0.95" fill="#000"/>
<circle cx="492.50" cy="144.10" r="0.95" fill="#000"/>
<circle cx="489.60" cy="147.40" r="0.95" fill="#000"/>
<circle cx="490.80" cy="150.70" r="0.95" fill="#000"/>
<circle cx="494.30" cy="154.00" r="0.95" fill="#000"/>
<circle cx="492.50" cy="157.30" r="0.95" fill="#000"/>
<circle cx="489.60" cy="160.60" r="0.95" fill="#000"/>
<circle cx="490.80" cy="163.90" r="0.95" fill="#000"/>
<circle cx="494.30" cy="167.20" r="0.95" fill="#000"/>
<circle cx="492.50" cy="170.50" r="0.95" fill="#000"/>
<circle cx="489.60" cy="173.80" r="0.95" fill="#000"/>
<circle cx="490.80" cy="177.10" r="0.95" fill="#000"/>
<circle cx="494.30" cy="180.40" r="0.95" fill="#000"/>
<circle cx="492.50" cy="183.70" r="0.95" fill="#000"/>
<circle cx="489.60" cy="187.00" r="0.95" fill="#000"/>
<circle cx="490.80" cy="190.30" r="0.95" fill="#000"/>
<circle cx="494.30" cy="193.60" r="0.95" fill="#000"/>
<circle cx="492.50" cy="196.90" r="0.95" fill="#000"/>
<circle cx="489.60" cy="200.20" r="0.95" fill="#000"/>
<circle cx="490.80" cy="203.50" r="0.95" fill="#000"/>
<circle cx="494.30" cy="206.80" r="0.95" fill="#000"/>
<circle cx="492.50" cy="210.10" r="0.95" fill="#000"/>
<circle cx="489.60" cy="213.40" r="0.95" fill="#000"/>
<circle cx="490.80" cy="216.70" r="0.95" fill="#000"/>
<circle cx="494.30" cy="220.00" r="0.95" fill="#000"/>
<circle cx="492.50" cy="223.30" r="0.95" fill="#000"/>
<circle cx="489.60" cy="226.60" r="0.95" fill="#000"/>
<circle cx="490.80" cy="229.90" r="0.95" fill="#000"/>
<circle cx="494.30" cy="233.20" r="0.95" fill="#000"/>
<circle cx="492.50" cy="236.50" r="0.95" fill="#000"/>
<circle cx="489.60" cy="239.80" r="0.95" fill="#000"/>
<circle cx="490.80" cy="243.10" r="0.95" fill="#000"/>
<circle cx="494.30" cy="246.40" r="0.95" fill="#000"/>
<circle cx="492.50" cy="249.70" r="0.95" fill="#000"/>
<circle cx="489.60" cy="253.00" r="0.95" fill="#000"/>
<circle cx="490.80" cy="256.30" r="0.95" fill="#000"/>
<circle cx="494.30" cy="259.60" r="0.95" fill="#000"/>
<circle cx="492.50" cy="262.90" r="0.95" fill="#000"/>
<circle cx="489.60" cy="266.20" r="0.95" fill="#000"/>
<circle cx="490.80" cy="269.50" r="0.95" fill="#000"/>
<circle cx="494.30" cy="272.80" r="0.95" fill="#000"/>
<circle cx="492.50" cy="276.10" r="0.95" fill="#000"/>
<circle cx="489.60" cy="279.40" r="0.95" fill="#000"/>
<circle cx="490.80" cy="282.70" r="0.95" fill="#000"/>
<circle cx="494.30" cy="286.00" r="0.95" fill="#000"/>
<circle cx="492.50" cy="289.30" r="0.95" fill="#000"/>
<circle cx="489.60" cy="292.60" r="0.95" fill="#000"/>
<circle cx="490.80" cy="295.90" r="0.95" fill="#000"/>
<circle cx="494.30" cy="299.20" r="0.95" fill="#000"/>
<circle cx="492.50" cy="302.50" r="0.95" fill="#000"/>
<circle cx="489.60" cy="305.80" r="0.95" fill="#000"/>
<circle cx="490.80" cy="309.10" r="0.95" fill="#000"/>
<circle cx="494.30" cy="312.40" r="0.95" fill="#000"/>
<circle cx="492.50" cy="315.70" r="0.95" fill="#000"/>
<circle cx="489.60" cy="319.00" r="0.95" fill="#000"/>
<circle cx="490.80" cy="322.30" r="0.95" fill="#000"/>
<circle cx="494.30" cy="325.60" r="0.95" fill="#000"/>
<circle cx="492.50" cy="328.90" r="0.95" fill="#000"/>
<circle cx="489.60" cy="332.20" r="0.95" fill="#000"/>
<circle cx="490.80" cy="335.50" r="0.95" fill="#000"/>
<circle cx="494.30" cy="338.80" r="0.95" fill="#000"/>
<circle cx="492.50" cy="342.10" r="0.95" fill="#000"/>
<circle cx="489.60" cy="345.40" r="0.95" fill="#000"/>
<circle cx="490.80" cy="348.70" r="0.95" fill="#000"/>
<circle cx="494.30" cy="352.00" r="0.95" fill="#000"/>
<circle cx="492.50" cy="355.30" r="0.95" fill="#000"/>
<circle cx="489.60" cy="358.60" r="0.95" fill="#000"/>
<circle cx="490.80" cy="361.90" r="0.95" fill="#000"/>
<circle cx="494.30" cy="365.20" r="0.95" fill="#000"/>
<circle cx="492.50" cy="368.50" r="0.95" fill="#000"/>
<circle cx="489.60" cy="371.80" r="0.95" fill="#000"/>
<circle cx="490.80" cy="375.10" r="0.95" fill="#000"/>
<rect x="495.80" y="49.40" width="8.00" height="328.00" fill="url(#brA)"/>
<rect x="495.80" y="49.40" width="0.90" height="328.00" fill="#000"/>
<rect x="502.00" y="49.40" width="1.80" height="328.00" fill="#000"/>
<rect x="495.80" y="49.40" width="8.00" height="1.30" fill="#000"/>
<line x1="67.50" y1="283.50" x2="67.50" y2="285.50" stroke="#333" stroke-width="0.85"/>
<line x1="65.30" y1="283.50" x2="69.70" y2="283.50" stroke="#333" stroke-width="1.00"/>
<line x1="75.50" y1="290.50" x2="75.50" y2="299.50" stroke="#333" stroke-width="0.85"/>
<line x1="73.30" y1="290.50" x2="77.70" y2="290.50" stroke="#333" stroke-width="1.00"/>
<line x1="73.30" y1="299.50" x2="77.70" y2="299.50" stroke="#333" stroke-width="1.00"/>
<line x1="83.50" y1="279.50" x2="83.50" y2="290.50" stroke="#333" stroke-width="0.85"/>
<line x1="81.30" y1="279.50" x2="85.70" y2="279.50" stroke="#333" stroke-width="1.00"/>
<line x1="81.30" y1="290.50" x2="85.70" y2="290.50" stroke="#333" stroke-width="1.00"/>
<line x1="91.50" y1="294.50" x2="91.50" y2="303.50" stroke="#333" stroke-width="0.85"/>
<line x1="89.30" y1="294.50" x2="93.70" y2="294.50" stroke="#333" stroke-width="1.00"/>
<line x1="89.30" y1="303.50" x2="93.70" y2="303.50" stroke="#333" stroke-width="1.00"/>
<line x1="99.50" y1="292.50" x2="99.50" y2="306.50" stroke="#333" stroke-width="0.85"/>
<line x1="97.30" y1="292.50" x2="101.70" y2="292.50" stroke="#333" stroke-width="1.00"/>
<line x1="97.30" y1="306.50" x2="101.70" y2="306.50" stroke="#333" stroke-width="1.00"/>
<line x1="107.50" y1="287.50" x2="107.50" y2="292.50" stroke="#333" stroke-width="0.85"/>
<line x1="105.30" y1="287.50" x2="109.70" y2="287.50" stroke="#333" stroke-width="1.00"/>
<line x1="123.50" y1="286.50" x2="123.50" y2="301.50" stroke="#333" stroke-width="0.85"/>
<line x1="121.30" y1="286.50" x2="125.70" y2="286.50" stroke="#333" stroke-width="1.00"/>
<line x1="121.30" y1="301.50" x2="125.70" y2="301.50" stroke="#333" stroke-width="1.00"/>
<line x1="142.50" y1="284.50" x2="142.50" y2="287.90" stroke="#333" stroke-width="0.85"/>
<line x1="140.30" y1="284.50" x2="144.70" y2="284.50" stroke="#333" stroke-width="1.00"/>
<line x1="150.50" y1="284.50" x2="150.50" y2="295.50" stroke="#333" stroke-width="0.85"/>
<line x1="148.30" y1="284.50" x2="152.70" y2="284.50" stroke="#333" stroke-width="1.00"/>
<line x1="148.30" y1="295.50" x2="152.70" y2="295.50" stroke="#333" stroke-width="1.00"/>
<line x1="158.50" y1="290.50" x2="158.50" y2="304.50" stroke="#333" stroke-width="0.85"/>
<line x1="156.30" y1="290.50" x2="160.70" y2="290.50" stroke="#333" stroke-width="1.00"/>
<line x1="156.30" y1="304.50" x2="160.70" y2="304.50" stroke="#333" stroke-width="1.00"/>
<line x1="166.50" y1="286.50" x2="166.50" y2="296.50" stroke="#333" stroke-width="0.85"/>
<line x1="164.30" y1="286.50" x2="168.70" y2="286.50" stroke="#333" stroke-width="1.00"/>
<line x1="164.30" y1="296.50" x2="168.70" y2="296.50" stroke="#333" stroke-width="1.00"/>
<line x1="174.50" y1="290.50" x2="174.50" y2="302.50" stroke="#333" stroke-width="0.85"/>
<line x1="172.30" y1="290.50" x2="176.70" y2="290.50" stroke="#333" stroke-width="1.00"/>
<line x1="172.30" y1="302.50" x2="176.70" y2="302.50" stroke="#333" stroke-width="1.00"/>
<line x1="182.50" y1="277.50" x2="182.50" y2="287.50" stroke="#333" stroke-width="0.85"/>
<line x1="180.30" y1="277.50" x2="184.70" y2="277.50" stroke="#333" stroke-width="1.00"/>
<line x1="190.50" y1="294.50" x2="190.50" y2="298.50" stroke="#333" stroke-width="0.85"/>
<line x1="188.30" y1="294.50" x2="192.70" y2="294.50" stroke="#333" stroke-width="1.00"/>
<line x1="188.30" y1="298.50" x2="192.70" y2="298.50" stroke="#333" stroke-width="1.00"/>
<line x1="198.50" y1="296.50" x2="198.50" y2="306.50" stroke="#333" stroke-width="0.85"/>
<line x1="196.30" y1="296.50" x2="200.70" y2="296.50" stroke="#333" stroke-width="1.00"/>
<line x1="196.30" y1="306.50" x2="200.70" y2="306.50" stroke="#333" stroke-width="1.00"/>
<line x1="217.50" y1="181.50" x2="217.50" y2="191.50" stroke="#333" stroke-width="0.85"/>
<line x1="215.30" y1="181.50" x2="219.70" y2="181.50" stroke="#333" stroke-width="1.00"/>
<line x1="225.50" y1="193.50" x2="225.50" y2="215.50" stroke="#333" stroke-width="0.85"/>
<line x1="223.30" y1="193.50" x2="227.70" y2="193.50" stroke="#333" stroke-width="1.00"/>
<line x1="223.30" y1="215.50" x2="227.70" y2="215.50" stroke="#333" stroke-width="1.00"/>
<line x1="233.50" y1="197.50" x2="233.50" y2="214.50" stroke="#333" stroke-width="0.85"/>
<line x1="231.30" y1="197.50" x2="235.70" y2="197.50" stroke="#333" stroke-width="1.00"/>
<line x1="231.30" y1="214.50" x2="235.70" y2="214.50" stroke="#333" stroke-width="1.00"/>
<line x1="241.50" y1="187.50" x2="241.50" y2="215.50" stroke="#333" stroke-width="0.85"/>
<line x1="239.30" y1="187.50" x2="243.70" y2="187.50" stroke="#333" stroke-width="1.00"/>
<line x1="239.30" y1="215.50" x2="243.70" y2="215.50" stroke="#333" stroke-width="1.00"/>
<line x1="249.50" y1="182.50" x2="249.50" y2="197.50" stroke="#333" stroke-width="0.85"/>
<line x1="247.30" y1="182.50" x2="251.70" y2="182.50" stroke="#333" stroke-width="1.00"/>
<line x1="247.30" y1="197.50" x2="251.70" y2="197.50" stroke="#333" stroke-width="1.00"/>
<line x1="257.50" y1="252.50" x2="257.50" y2="261.10" stroke="#333" stroke-width="0.85"/>
<line x1="255.30" y1="252.50" x2="259.70" y2="252.50" stroke="#333" stroke-width="1.00"/>
<line x1="265.50" y1="181.50" x2="265.50" y2="192.50" stroke="#333" stroke-width="0.85"/>
<line x1="263.30" y1="181.50" x2="267.70" y2="181.50" stroke="#333" stroke-width="1.00"/>
<line x1="263.30" y1="192.50" x2="267.70" y2="192.50" stroke="#333" stroke-width="1.00"/>
<line x1="273.50" y1="183.50" x2="273.50" y2="192.50" stroke="#333" stroke-width="0.85"/>
<line x1="271.30" y1="183.50" x2="275.70" y2="183.50" stroke="#333" stroke-width="1.00"/>
<line x1="271.30" y1="192.50" x2="275.70" y2="192.50" stroke="#333" stroke-width="1.00"/>
<line x1="292.50" y1="181.50" x2="292.50" y2="187.50" stroke="#333" stroke-width="0.85"/>
<line x1="290.30" y1="181.50" x2="294.70" y2="181.50" stroke="#333" stroke-width="1.00"/>
<line x1="308.50" y1="191.50" x2="308.50" y2="195.50" stroke="#333" stroke-width="0.85"/>
<line x1="306.30" y1="191.50" x2="310.70" y2="191.50" stroke="#333" stroke-width="1.00"/>
<line x1="306.30" y1="195.50" x2="310.70" y2="195.50" stroke="#333" stroke-width="1.00"/>
<line x1="316.50" y1="189.50" x2="316.50" y2="202.50" stroke="#333" stroke-width="0.85"/>
<line x1="314.30" y1="189.50" x2="318.70" y2="189.50" stroke="#333" stroke-width="1.00"/>
<line x1="314.30" y1="202.50" x2="318.70" y2="202.50" stroke="#333" stroke-width="1.00"/>
<line x1="324.50" y1="187.50" x2="324.50" y2="190.00" stroke="#333" stroke-width="0.85"/>
<line x1="322.30" y1="187.50" x2="326.70" y2="187.50" stroke="#333" stroke-width="1.00"/>
<line x1="332.50" y1="190.50" x2="332.50" y2="192.30" stroke="#333" stroke-width="0.85"/>
<line x1="330.30" y1="190.50" x2="334.70" y2="190.50" stroke="#333" stroke-width="1.00"/>
<line x1="340.50" y1="190.50" x2="340.50" y2="195.50" stroke="#333" stroke-width="0.85"/>
<line x1="338.30" y1="190.50" x2="342.70" y2="190.50" stroke="#333" stroke-width="1.00"/>
<line x1="338.30" y1="195.50" x2="342.70" y2="195.50" stroke="#333" stroke-width="1.00"/>
<line x1="348.50" y1="302.50" x2="348.50" y2="314.50" stroke="#333" stroke-width="0.85"/>
<line x1="346.30" y1="302.50" x2="350.70" y2="302.50" stroke="#333" stroke-width="1.00"/>
<line x1="346.30" y1="314.50" x2="350.70" y2="314.50" stroke="#333" stroke-width="1.00"/>
<line x1="368.50" y1="110.50" x2="368.50" y2="115.50" stroke="#333" stroke-width="0.85"/>
<line x1="366.30" y1="110.50" x2="370.70" y2="110.50" stroke="#333" stroke-width="1.00"/>
<line x1="376.50" y1="300.50" x2="376.50" y2="305.50" stroke="#333" stroke-width="0.85"/>
<line x1="374.30" y1="300.50" x2="378.70" y2="300.50" stroke="#333" stroke-width="1.00"/>
<line x1="374.30" y1="305.50" x2="378.70" y2="305.50" stroke="#333" stroke-width="1.00"/>
<line x1="384.50" y1="110.50" x2="384.50" y2="128.50" stroke="#333" stroke-width="0.85"/>
<line x1="382.30" y1="110.50" x2="386.70" y2="110.50" stroke="#333" stroke-width="1.00"/>
<line x1="382.30" y1="128.50" x2="386.70" y2="128.50" stroke="#333" stroke-width="1.00"/>
<line x1="392.50" y1="106.50" x2="392.50" y2="122.50" stroke="#333" stroke-width="0.85"/>
<line x1="390.30" y1="106.50" x2="394.70" y2="106.50" stroke="#333" stroke-width="1.00"/>
<line x1="390.30" y1="122.50" x2="394.70" y2="122.50" stroke="#333" stroke-width="1.00"/>
<line x1="400.50" y1="109.50" x2="400.50" y2="119.50" stroke="#333" stroke-width="0.85"/>
<line x1="398.30" y1="109.50" x2="402.70" y2="109.50" stroke="#333" stroke-width="1.00"/>
<line x1="398.30" y1="119.50" x2="402.70" y2="119.50" stroke="#333" stroke-width="1.00"/>
<line x1="408.50" y1="114.50" x2="408.50" y2="124.50" stroke="#333" stroke-width="0.85"/>
<line x1="406.30" y1="114.50" x2="410.70" y2="114.50" stroke="#333" stroke-width="1.00"/>
<line x1="416.50" y1="104.50" x2="416.50" y2="115.50" stroke="#333" stroke-width="0.85"/>
<line x1="414.30" y1="104.50" x2="418.70" y2="104.50" stroke="#333" stroke-width="1.00"/>
<line x1="414.30" y1="115.50" x2="418.70" y2="115.50" stroke="#333" stroke-width="1.00"/>
<line x1="424.50" y1="278.50" x2="424.50" y2="293.90" stroke="#333" stroke-width="0.85"/>
<line x1="422.30" y1="278.50" x2="426.70" y2="278.50" stroke="#333" stroke-width="1.00"/>
<line x1="443.50" y1="48.50" x2="443.50" y2="52.50" stroke="#333" stroke-width="0.85"/>
<line x1="441.30" y1="48.50" x2="445.70" y2="48.50" stroke="#333" stroke-width="1.00"/>
<line x1="451.50" y1="45.50" x2="451.50" y2="62.50" stroke="#333" stroke-width="0.85"/>
<line x1="449.30" y1="45.50" x2="453.70" y2="45.50" stroke="#333" stroke-width="1.00"/>
<line x1="449.30" y1="62.50" x2="453.70" y2="62.50" stroke="#333" stroke-width="1.00"/>
<line x1="459.50" y1="40.50" x2="459.50" y2="47.50" stroke="#333" stroke-width="0.85"/>
<line x1="457.30" y1="40.50" x2="461.70" y2="40.50" stroke="#333" stroke-width="1.00"/>
<line x1="457.30" y1="47.50" x2="461.70" y2="47.50" stroke="#333" stroke-width="1.00"/>
<line x1="467.50" y1="53.50" x2="467.50" y2="57.10" stroke="#333" stroke-width="0.85"/>
<line x1="465.30" y1="53.50" x2="469.70" y2="53.50" stroke="#333" stroke-width="1.00"/>
<line x1="475.50" y1="37.50" x2="475.50" y2="63.50" stroke="#333" stroke-width="0.85"/>
<line x1="473.30" y1="37.50" x2="477.70" y2="37.50" stroke="#333" stroke-width="1.00"/>
<line x1="473.30" y1="63.50" x2="477.70" y2="63.50" stroke="#333" stroke-width="1.00"/>
<line x1="483.50" y1="44.50" x2="483.50" y2="52.50" stroke="#333" stroke-width="0.85"/>
<line x1="481.30" y1="44.50" x2="485.70" y2="44.50" stroke="#333" stroke-width="1.00"/>
<line x1="481.30" y1="52.50" x2="485.70" y2="52.50" stroke="#333" stroke-width="1.00"/>
<line x1="491.50" y1="40.50" x2="491.50" y2="58.50" stroke="#333" stroke-width="0.85"/>
<line x1="489.30" y1="40.50" x2="493.70" y2="40.50" stroke="#333" stroke-width="1.00"/>
<line x1="489.30" y1="58.50" x2="493.70" y2="58.50" stroke="#333" stroke-width="1.00"/>
<line x1="499.50" y1="45.50" x2="499.50" y2="53.50" stroke="#333" stroke-width="0.85"/>
<line x1="497.30" y1="45.50" x2="501.70" y2="45.50" stroke="#333" stroke-width="1.00"/>
<line x1="497.30" y1="53.50" x2="501.70" y2="53.50" stroke="#333" stroke-width="1.00"/>
<path d="M250.00 180.00V175.50H259.00V240.00" fill="none" stroke="#111" stroke-width="1.3"/>
<text transform="translate(253.80 176.04) scale(1 0.940)" font-size="16.60" text-anchor="middle" style="font-weight:normal" stroke="#0a0a0a" stroke-width="0.35">*</text>
<path d="M291.50 178.50V172.50H301.60V250.60" fill="none" stroke="#111" stroke-width="1.3"/>
<text transform="translate(297.40 173.24) scale(1 0.940)" font-size="16.60" text-anchor="middle" style="font-weight:normal" stroke="#0a0a0a" stroke-width="0.35">**</text>
<path d="M339.60 189.00V181.50H350.40V260.60" fill="none" stroke="#111" stroke-width="1.3"/>
<text transform="translate(345.50 183.84) scale(1 0.940)" font-size="16.60" text-anchor="middle" style="font-weight:normal" stroke="#0a0a0a" stroke-width="0.35">**</text>
<path d="M366.60 105.00V99.50H376.80V178.00" fill="none" stroke="#111" stroke-width="1.3"/>
<text transform="translate(371.00 101.44) scale(1 0.940)" font-size="16.60" text-anchor="middle" style="font-weight:normal" stroke="#0a0a0a" stroke-width="0.35">**</text>
<path d="M415.10 101.80V94.50H425.70V173.50" fill="none" stroke="#111" stroke-width="1.3"/>
<text transform="translate(421.50 96.84) scale(1 0.940)" font-size="16.60" text-anchor="middle" style="font-weight:normal" stroke="#0a0a0a" stroke-width="0.35">**</text>
<text x="98.75" y="398.00" font-size="13.80" text-anchor="middle">No APC</text>
<text x="180.75" y="398.00" font-size="13.60" text-anchor="middle">monocytes</text>
<text x="256.70" y="398.00" font-size="13.30" text-anchor="middle">DC</text>
<text x="320.90" y="396.00" font-size="11.40" text-anchor="middle">macrophage</text>
<text x="397.50" y="396.00" font-size="11.40" text-anchor="middle">macrophage</text>
<text x="473.10" y="396.00" font-size="11.40" text-anchor="middle">macrophage</text>
<text x="397.80" y="404.80" font-size="7.00" text-anchor="middle">-low LPS</text>
<text x="472.80" y="405.20" font-size="7.00" text-anchor="middle">-high LPS</text>
<line x1="73.60" y1="439.40" x2="73.60" y2="793.80" stroke="#d2d2d2" stroke-width="1.00"/>
<line x1="68.60" y1="793.30" x2="519.00" y2="793.30" stroke="#d2d2d2" stroke-width="1.00"/>
<line x1="68.60" y1="793.30" x2="73.60" y2="793.30" stroke="#d2d2d2" stroke-width="1.00"/>
<text transform="translate(60 797.20) scale(1.46 1)" font-size="10.6" text-anchor="end">0</text>
<line x1="68.60" y1="749.06" x2="73.60" y2="749.06" stroke="#d2d2d2" stroke-width="1.00"/>
<text transform="translate(60 752.96) scale(1.46 1)" font-size="10.6" text-anchor="end">500</text>
<line x1="68.60" y1="704.82" x2="73.60" y2="704.82" stroke="#d2d2d2" stroke-width="1.00"/>
<text transform="translate(60 708.72) scale(1.46 1)" font-size="10.6" text-anchor="end">1000</text>
<line x1="68.60" y1="660.58" x2="73.60" y2="660.58" stroke="#d2d2d2" stroke-width="1.00"/>
<text transform="translate(60 664.48) scale(1.46 1)" font-size="10.6" text-anchor="end">1500</text>
<line x1="68.60" y1="616.34" x2="73.60" y2="616.34" stroke="#d2d2d2" stroke-width="1.00"/>
<text transform="translate(60 620.24) scale(1.46 1)" font-size="10.6" text-anchor="end">2000</text>
<line x1="68.60" y1="572.10" x2="73.60" y2="572.10" stroke="#d2d2d2" stroke-width="1.00"/>
<text transform="translate(60 576.00) scale(1.46 1)" font-size="10.6" text-anchor="end">2500</text>
<line x1="68.60" y1="527.86" x2="73.60" y2="527.86" stroke="#d2d2d2" stroke-width="1.00"/>
<text transform="translate(60 531.76) scale(1.46 1)" font-size="10.6" text-anchor="end">3000</text>
<line x1="68.60" y1="483.62" x2="73.60" y2="483.62" stroke="#d2d2d2" stroke-width="1.00"/>
<text transform="translate(60 487.52) scale(1.46 1)" font-size="10.6" text-anchor="end">3500</text>
<line x1="68.60" y1="439.38" x2="73.60" y2="439.38" stroke="#d2d2d2" stroke-width="1.00"/>
<text transform="translate(60 443.28) scale(1.46 1)" font-size="10.6" text-anchor="end">4000</text>
<line x1="147.80" y1="793.30" x2="147.80" y2="795.80" stroke="#d2d2d2" stroke-width="1.00"/>
<line x1="222.00" y1="793.30" x2="222.00" y2="795.80" stroke="#d2d2d2" stroke-width="1.00"/>
<line x1="296.20" y1="793.30" x2="296.20" y2="795.80" stroke="#d2d2d2" stroke-width="1.00"/>
<line x1="370.40" y1="793.30" x2="370.40" y2="795.80" stroke="#d2d2d2" stroke-width="1.00"/>
<line x1="444.60" y1="793.30" x2="444.60" y2="795.80" stroke="#d2d2d2" stroke-width="1.00"/>
<line x1="518.80" y1="793.30" x2="518.80" y2="795.80" stroke="#d2d2d2" stroke-width="1.00"/>
<text transform="translate(1.5 427) scale(0.94 1)" font-size="24.8" stroke="#0a0a0a" stroke-width="0.3">B</text>
<text transform="translate(18.6 610) rotate(-90)" font-size="20.4" text-anchor="middle">IFN<tspan style="font-weight:normal" font-size="19">γ</tspan> (pg/mL)</text>
<rect x="103.60" y="462.60" width="10.00" height="6.60" fill="#000"/>
<text x="126.70" y="474.00" font-size="13.50" text-anchor="start">IgG1</text>
<rect x="104.10" y="496.50" width="9.00" height="5.60" fill="#fff" stroke="#444" stroke-width="1.00"/>
<text x="123.60" y="506.00" font-size="13.75" text-anchor="start">Anti-2B4</text>
<rect x="104.10" y="529.80" width="9.00" height="5.60" fill="#c6c6c6" stroke="#444" stroke-width="1.00"/>
<text x="123.00" y="539.50" font-size="13.75" text-anchor="start">Anti-LFA1</text>
<rect x="104.20" y="563.30" width="8.80" height="5.40" fill="#fff" stroke="#000" stroke-width="1.20"/>
<rect x="105.50" y="562.70" width="1.20" height="6.60" fill="#000"/>
<rect x="108.00" y="562.70" width="1.20" height="6.60" fill="#000"/>
<rect x="110.50" y="562.70" width="1.20" height="6.60" fill="#000"/>
<rect x="103.60" y="562.70" width="1.60" height="6.60" fill="#000"/>
<text x="122.60" y="572.70" font-size="13.75" text-anchor="start">Anti-CD40L</text>
<rect x="104.10" y="596.90" width="9.00" height="5.60" fill="#858585" stroke="#444" stroke-width="1.00"/>
<text x="125.60" y="605.60" font-size="13.75" text-anchor="start">IgM (NK)</text>
<rect x="103.60" y="629.80" width="10.00" height="6.60" fill="#fff"/>
<rect x="104.10" y="630.30" width="9.00" height="5.60" fill="#fff" stroke="#111" stroke-width="1.00"/>
<rect x="103.60" y="629.80" width="10.00" height="1.40" fill="#000"/>
<rect x="103.60" y="632.70" width="10.00" height="1.40" fill="#000"/>
<text x="125.00" y="638.20" font-size="13.75" text-anchor="start">Anti-NKp30</text>
<rect x="104.10" y="663.50" width="9.00" height="5.60" fill="#fff" stroke="#222" stroke-width="1.00"/>
<rect x="105.90" y="666.10" width="1.4" height="1.4" fill="#000"/>
<rect x="109.50" y="664.90" width="1.4" height="1.4" fill="#000"/>
<text x="127.60" y="673.20" font-size="13.75" text-anchor="start">IgM (APC)</text>
<rect x="104.10" y="697.00" width="9.00" height="5.60" fill="#fff" stroke="#333" stroke-width="1.00"/>
<text x="125.00" y="704.30" font-size="13.75" text-anchor="start">Anti-CD48</text>
<rect x="78.60" y="785.40" width="9.45" height="7.90" fill="#000"/>
<rect x="87.55" y="787.40" width="7.35" height="5.90" fill="#fff" stroke="#555" stroke-width="0.70"/>
<rect x="87.25" y="787.00" width="7.95" height="1.00" fill="#333"/>
<rect x="94.80" y="786.40" width="8.15" height="6.90" fill="#c6c6c6" stroke="#444" stroke-width="0.90"/>
<rect x="103.15" y="786.00" width="7.95" height="7.30" fill="#fff"/>
<rect x="102.35" y="786.00" width="1.50" height="7.30" fill="#000"/>
<rect x="105.75" y="786.00" width="1.60" height="7.30" fill="#000"/>
<rect x="109.45" y="786.00" width="1.65" height="7.30" fill="#000"/>
<rect x="103.15" y="786.00" width="7.95" height="1.10" fill="#000"/>
<rect x="111.10" y="786.00" width="7.95" height="7.30" fill="#858585"/>
<rect x="111.10" y="786.00" width="0.40" height="7.30" fill="#000"/>
<rect x="111.10" y="786.00" width="7.95" height="0.80" fill="#444"/>
<rect x="119.05" y="787.00" width="7.95" height="6.30" fill="#fff"/>
<path d="M119.05 787.00h7.95v1.12h-7.95zM119.05 789.39h7.95v2.05h-7.95zM119.05 792.71h7.95v0.59h-7.95z" fill="#000"/>
<rect x="119.05" y="787.00" width="7.95" height="1.30" fill="#000"/>
<rect x="119.05" y="787.00" width="0.70" height="6.30" fill="#000"/>
<rect x="134.95" y="786.60" width="7.95" height="6.70" fill="url(#brB)"/>
<rect x="134.95" y="786.60" width="0.80" height="6.70" fill="#000"/>
<rect x="142.00" y="786.60" width="0.80" height="6.70" fill="#000"/>
<rect x="134.95" y="786.60" width="7.95" height="1.30" fill="#000"/>
<rect x="152.80" y="786.60" width="9.45" height="6.70" fill="#000"/>
<rect x="161.75" y="786.40" width="7.35" height="6.90" fill="#fff" stroke="#555" stroke-width="0.70"/>
<rect x="161.45" y="786.00" width="7.95" height="1.00" fill="#333"/>
<rect x="169.00" y="787.40" width="8.15" height="5.90" fill="#c6c6c6" stroke="#444" stroke-width="0.90"/>
<rect x="177.35" y="787.00" width="7.95" height="6.30" fill="#fff"/>
<rect x="176.55" y="787.00" width="1.50" height="6.30" fill="#000"/>
<rect x="179.95" y="787.00" width="1.60" height="6.30" fill="#000"/>
<rect x="183.65" y="787.00" width="1.65" height="6.30" fill="#000"/>
<rect x="177.35" y="787.00" width="7.95" height="1.10" fill="#000"/>
<rect x="185.30" y="787.50" width="7.95" height="5.80" fill="#858585"/>
<rect x="185.30" y="787.50" width="0.40" height="5.80" fill="#000"/>
<rect x="185.30" y="787.50" width="7.95" height="0.80" fill="#444"/>
<rect x="193.25" y="785.40" width="7.95" height="7.90" fill="#fff"/>
<path d="M193.25 786.07h7.95v2.05h-7.95zM193.25 789.39h7.95v2.05h-7.95zM193.25 792.71h7.95v0.59h-7.95z" fill="#000"/>
<rect x="193.25" y="785.40" width="7.95" height="1.30" fill="#000"/>
<rect x="193.25" y="785.40" width="0.70" height="7.90" fill="#000"/>
<rect x="201.20" y="786.60" width="7.95" height="6.70" fill="#fff"/>
<line x1="208.75" y1="786.60" x2="208.75" y2="793.30" stroke="#555" stroke-width="0.80"/>
<line x1="201.50" y1="786.60" x2="201.50" y2="793.30" stroke="#999" stroke-width="0.50"/>
<rect x="201.20" y="786.60" width="7.95" height="1.00" fill="#222"/>
<circle cx="205.90" cy="791.50" r="0.95" fill="#000"/>
<rect x="209.15" y="786.60" width="7.95" height="6.70" fill="url(#brB)"/>
<rect x="209.15" y="786.60" width="0.80" height="6.70" fill="#000"/>
<rect x="216.20" y="786.60" width="0.80" height="6.70" fill="#000"/>
<rect x="209.15" y="786.60" width="7.95" height="1.30" fill="#000"/>
<rect x="226.90" y="662.00" width="9.45" height="131.30" fill="#000"/>
<rect x="235.85" y="665.40" width="7.35" height="127.90" fill="#fff" stroke="#555" stroke-width="0.70"/>
<rect x="235.55" y="665.00" width="7.95" height="1.00" fill="#333"/>
<rect x="243.10" y="668.60" width="8.15" height="124.70" fill="#c6c6c6" stroke="#444" stroke-width="0.90"/>
<rect x="251.45" y="662.00" width="7.95" height="131.30" fill="#fff"/>
<rect x="250.65" y="662.00" width="1.50" height="131.30" fill="#000"/>
<rect x="254.05" y="662.00" width="1.60" height="131.30" fill="#000"/>
<rect x="257.75" y="662.00" width="1.65" height="131.30" fill="#000"/>
<rect x="251.45" y="662.00" width="7.95" height="1.10" fill="#000"/>
<rect x="259.40" y="659.40" width="7.95" height="133.90" fill="#858585"/>
<rect x="259.40" y="659.40" width="0.40" height="133.90" fill="#000"/>
<rect x="259.40" y="659.40" width="7.95" height="0.80" fill="#444"/>
<rect x="267.35" y="748.00" width="7.95" height="45.30" fill="#fff"/>
<path d="M267.35 748.00h7.95v0.28h-7.95zM267.35 749.55h7.95v2.05h-7.95zM267.35 752.87h7.95v2.05h-7.95zM267.35 756.19h7.95v2.05h-7.95zM267.35 759.51h7.95v2.05h-7.95zM267.35 762.83h7.95v2.05h-7.95zM267.35 766.15h7.95v2.05h-7.95zM267.35 769.47h7.95v2.05h-7.95zM267.35 772.79h7.95v2.05h-7.95zM267.35 776.11h7.95v2.05h-7.95zM267.35 779.43h7.95v2.05h-7.95zM267.35 782.75h7.95v2.05h-7.95zM267.35 786.07h7.95v2.05h-7.95zM267.35 789.39h7.95v2.05h-7.95zM267.35 792.71h7.95v0.59h-7.95z" fill="#000"/>
<rect x="267.35" y="748.00" width="7.95" height="1.30" fill="#000"/>
<rect x="267.35" y="748.00" width="0.70" height="45.30" fill="#000"/>
<rect x="275.30" y="661.00" width="7.95" height="132.30" fill="#fff"/>
<line x1="282.85" y1="661.00" x2="282.85" y2="793.30" stroke="#555" stroke-width="0.80"/>
<line x1="275.60" y1="661.00" x2="275.60" y2="793.30" stroke="#999" stroke-width="0.50"/>
<rect x="275.30" y="661.00" width="7.95" height="1.00" fill="#222"/>
<circle cx="277.10" cy="662.80" r="0.95" fill="#000"/>
<circle cx="278.30" cy="666.10" r="0.95" fill="#000"/>
<circle cx="281.80" cy="669.40" r="0.95" fill="#000"/>
<circle cx="280.00" cy="672.70" r="0.95" fill="#000"/>
<circle cx="277.10" cy="676.00" r="0.95" fill="#000"/>
<circle cx="278.30" cy="679.30" r="0.95" fill="#000"/>
<circle cx="281.80" cy="682.60" r="0.95" fill="#000"/>
<circle cx="280.00" cy="685.90" r="0.95" fill="#000"/>
<circle cx="277.10" cy="689.20" r="0.95" fill="#000"/>
<circle cx="278.30" cy="692.50" r="0.95" fill="#000"/>
<circle cx="281.80" cy="695.80" r="0.95" fill="#000"/>
<circle cx="280.00" cy="699.10" r="0.95" fill="#000"/>
<circle cx="277.10" cy="702.40" r="0.95" fill="#000"/>
<circle cx="278.30" cy="705.70" r="0.95" fill="#000"/>
<circle cx="281.80" cy="709.00" r="0.95" fill="#000"/>
<circle cx="280.00" cy="712.30" r="0.95" fill="#000"/>
<circle cx="277.10" cy="715.60" r="0.95" fill="#000"/>
<circle cx="278.30" cy="718.90" r="0.95" fill="#000"/>
<circle cx="281.80" cy="722.20" r="0.95" fill="#000"/>
<circle cx="280.00" cy="725.50" r="0.95" fill="#000"/>
<circle cx="277.10" cy="728.80" r="0.95" fill="#000"/>
<circle cx="278.30" cy="732.10" r="0.95" fill="#000"/>
<circle cx="281.80" cy="735.40" r="0.95" fill="#000"/>
<circle cx="280.00" cy="738.70" r="0.95" fill="#000"/>
<circle cx="277.10" cy="742.00" r="0.95" fill="#000"/>
<circle cx="278.30" cy="745.30" r="0.95" fill="#000"/>
<circle cx="281.80" cy="748.60" r="0.95" fill="#000"/>
<circle cx="280.00" cy="751.90" r="0.95" fill="#000"/>
<circle cx="277.10" cy="755.20" r="0.95" fill="#000"/>
<circle cx="278.30" cy="758.50" r="0.95" fill="#000"/>
<circle cx="281.80" cy="761.80" r="0.95" fill="#000"/>
<circle cx="280.00" cy="765.10" r="0.95" fill="#000"/>
<circle cx="277.10" cy="768.40" r="0.95" fill="#000"/>
<circle cx="278.30" cy="771.70" r="0.95" fill="#000"/>
<circle cx="281.80" cy="775.00" r="0.95" fill="#000"/>
<circle cx="280.00" cy="778.30" r="0.95" fill="#000"/>
<circle cx="277.10" cy="781.60" r="0.95" fill="#000"/>
<circle cx="278.30" cy="784.90" r="0.95" fill="#000"/>
<circle cx="281.80" cy="788.20" r="0.95" fill="#000"/>
<circle cx="280.00" cy="791.50" r="0.95" fill="#000"/>
<rect x="283.25" y="659.40" width="7.95" height="133.90" fill="url(#brB)"/>
<rect x="283.25" y="659.40" width="0.90" height="133.90" fill="#000"/>
<rect x="289.80" y="659.40" width="1.40" height="133.90" fill="#000"/>
<rect x="283.25" y="659.40" width="7.95" height="1.30" fill="#000"/>
<rect x="286.53" y="659.40" width="1.40" height="133.90" fill="#000"/>
<rect x="301.30" y="664.40" width="9.45" height="128.90" fill="#000"/>
<rect x="310.25" y="781.40" width="7.35" height="11.90" fill="#fff" stroke="#555" stroke-width="0.70"/>
<rect x="309.95" y="781.00" width="7.95" height="1.00" fill="#333"/>
<rect x="317.50" y="659.80" width="8.15" height="133.50" fill="#c6c6c6" stroke="#444" stroke-width="0.90"/>
<rect x="325.85" y="658.00" width="7.95" height="135.30" fill="#fff"/>
<rect x="325.05" y="658.00" width="1.50" height="135.30" fill="#000"/>
<rect x="328.45" y="658.00" width="1.60" height="135.30" fill="#000"/>
<rect x="332.15" y="658.00" width="1.65" height="135.30" fill="#000"/>
<rect x="325.85" y="658.00" width="7.95" height="1.10" fill="#000"/>
<rect x="333.80" y="671.40" width="7.95" height="121.90" fill="#858585"/>
<rect x="333.80" y="671.40" width="0.40" height="121.90" fill="#000"/>
<rect x="333.80" y="671.40" width="7.95" height="0.80" fill="#444"/>
<rect x="341.75" y="668.00" width="7.95" height="125.30" fill="#fff"/>
<path d="M341.75 668.00h7.95v0.60h-7.95zM341.75 669.87h7.95v2.05h-7.95zM341.75 673.19h7.95v2.05h-7.95zM341.75 676.51h7.95v2.05h-7.95zM341.75 679.83h7.95v2.05h-7.95zM341.75 683.15h7.95v2.05h-7.95zM341.75 686.47h7.95v2.05h-7.95zM341.75 689.79h7.95v2.05h-7.95zM341.75 693.11h7.95v2.05h-7.95zM341.75 696.43h7.95v2.05h-7.95zM341.75 699.75h7.95v2.05h-7.95zM341.75 703.07h7.95v2.05h-7.95zM341.75 706.39h7.95v2.05h-7.95zM341.75 709.71h7.95v2.05h-7.95zM341.75 713.03h7.95v2.05h-7.95zM341.75 716.35h7.95v2.05h-7.95zM341.75 719.67h7.95v2.05h-7.95zM341.75 722.99h7.95v2.05h-7.95zM341.75 726.31h7.95v2.05h-7.95zM341.75 729.63h7.95v2.05h-7.95zM341.75 732.95h7.95v2.05h-7.95zM341.75 736.27h7.95v2.05h-7.95zM341.75 739.59h7.95v2.05h-7.95zM341.75 742.91h7.95v2.05h-7.95zM341.75 746.23h7.95v2.05h-7.95zM341.75 749.55h7.95v2.05h-7.95zM341.75 752.87h7.95v2.05h-7.95zM341.75 756.19h7.95v2.05h-7.95zM341.75 759.51h7.95v2.05h-7.95zM341.75 762.83h7.95v2.05h-7.95zM341.75 766.15h7.95v2.05h-7.95zM341.75 769.47h7.95v2.05h-7.95zM341.75 772.79h7.95v2.05h-7.95zM341.75 776.11h7.95v2.05h-7.95zM341.75 779.43h7.95v2.05h-7.95zM341.75 782.75h7.95v2.05h-7.95zM341.75 786.07h7.95v2.05h-7.95zM341.75 789.39h7.95v2.05h-7.95zM341.75 792.71h7.95v0.59h-7.95z" fill="#000"/>
<rect x="341.75" y="668.00" width="7.95" height="1.30" fill="#000"/>
<rect x="341.75" y="668.00" width="0.70" height="125.30" fill="#000"/>
<rect x="349.70" y="662.00" width="7.95" height="131.30" fill="#fff"/>
<line x1="357.25" y1="662.00" x2="357.25" y2="793.30" stroke="#555" stroke-width="0.80"/>
<line x1="350.00" y1="662.00" x2="350.00" y2="793.30" stroke="#999" stroke-width="0.50"/>
<rect x="349.70" y="662.00" width="7.95" height="1.00" fill="#222"/>
<circle cx="352.70" cy="666.10" r="0.95" fill="#000"/>
<circle cx="356.20" cy="669.40" r="0.95" fill="#000"/>
<circle cx="354.40" cy="672.70" r="0.95" fill="#000"/>
<circle cx="351.50" cy="676.00" r="0.95" fill="#000"/>
<circle cx="352.70" cy="679.30" r="0.95" fill="#000"/>
<circle cx="356.20" cy="682.60" r="0.95" fill="#000"/>
<circle cx="354.40" cy="685.90" r="0.95" fill="#000"/>
<circle cx="351.50" cy="689.20" r="0.95" fill="#000"/>
<circle cx="352.70" cy="692.50" r="0.95" fill="#000"/>
<circle cx="356.20" cy="695.80" r="0.95" fill="#000"/>
<circle cx="354.40" cy="699.10" r="0.95" fill="#000"/>
<circle cx="351.50" cy="702.40" r="0.95" fill="#000"/>
<circle cx="352.70" cy="705.70" r="0.95" fill="#000"/>
<circle cx="356.20" cy="709.00" r="0.95" fill="#000"/>
<circle cx="354.40" cy="712.30" r="0.95" fill="#000"/>
<circle cx="351.50" cy="715.60" r="0.95" fill="#000"/>
<circle cx="352.70" cy="718.90" r="0.95" fill="#000"/>
<circle cx="356.20" cy="722.20" r="0.95" fill="#000"/>
<circle cx="354.40" cy="725.50" r="0.95" fill="#000"/>
<circle cx="351.50" cy="728.80" r="0.95" fill="#000"/>
<circle cx="352.70" cy="732.10" r="0.95" fill="#000"/>
<circle cx="356.20" cy="735.40" r="0.95" fill="#000"/>
<circle cx="354.40" cy="738.70" r="0.95" fill="#000"/>
<circle cx="351.50" cy="742.00" r="0.95" fill="#000"/>
<circle cx="352.70" cy="745.30" r="0.95" fill="#000"/>
<circle cx="356.20" cy="748.60" r="0.95" fill="#000"/>
<circle cx="354.40" cy="751.90" r="0.95" fill="#000"/>
<circle cx="351.50" cy="755.20" r="0.95" fill="#000"/>
<circle cx="352.70" cy="758.50" r="0.95" fill="#000"/>
<circle cx="356.20" cy="761.80" r="0.95" fill="#000"/>
<circle cx="354.40" cy="765.10" r="0.95" fill="#000"/>
<circle cx="351.50" cy="768.40" r="0.95" fill="#000"/>
<circle cx="352.70" cy="771.70" r="0.95" fill="#000"/>
<circle cx="356.20" cy="775.00" r="0.95" fill="#000"/>
<circle cx="354.40" cy="778.30" r="0.95" fill="#000"/>
<circle cx="351.50" cy="781.60" r="0.95" fill="#000"/>
<circle cx="352.70" cy="784.90" r="0.95" fill="#000"/>
<circle cx="356.20" cy="788.20" r="0.95" fill="#000"/>
<circle cx="354.40" cy="791.50" r="0.95" fill="#000"/>
<rect x="357.65" y="775.60" width="7.95" height="17.70" fill="url(#brB)"/>
<rect x="357.65" y="775.60" width="0.80" height="17.70" fill="#000"/>
<rect x="364.70" y="775.60" width="0.80" height="17.70" fill="#000"/>
<rect x="357.65" y="775.60" width="7.95" height="1.30" fill="#000"/>
<rect x="375.40" y="591.40" width="9.45" height="201.90" fill="#000"/>
<rect x="384.35" y="764.40" width="7.35" height="28.90" fill="#fff" stroke="#555" stroke-width="0.70"/>
<rect x="384.05" y="764.00" width="7.95" height="1.00" fill="#333"/>
<rect x="391.60" y="583.40" width="8.15" height="209.90" fill="#c6c6c6" stroke="#444" stroke-width="0.90"/>
<rect x="399.95" y="581.50" width="7.95" height="211.80" fill="#fff"/>
<rect x="399.15" y="581.50" width="1.50" height="211.80" fill="#000"/>
<rect x="402.55" y="581.50" width="1.60" height="211.80" fill="#000"/>
<rect x="406.25" y="581.50" width="1.65" height="211.80" fill="#000"/>
<rect x="399.95" y="581.50" width="7.95" height="1.10" fill="#000"/>
<rect x="407.90" y="589.60" width="7.95" height="203.70" fill="#858585"/>
<rect x="407.90" y="589.60" width="0.40" height="203.70" fill="#000"/>
<rect x="407.90" y="589.60" width="7.95" height="0.80" fill="#444"/>
<rect x="415.85" y="582.30" width="7.95" height="211.00" fill="#fff"/>
<path d="M415.85 583.55h7.95v2.05h-7.95zM415.85 586.87h7.95v2.05h-7.95zM415.85 590.19h7.95v2.05h-7.95zM415.85 593.51h7.95v2.05h-7.95zM415.85 596.83h7.95v2.05h-7.95zM415.85 600.15h7.95v2.05h-7.95zM415.85 603.47h7.95v2.05h-7.95zM415.85 606.79h7.95v2.05h-7.95zM415.85 610.11h7.95v2.05h-7.95zM415.85 613.43h7.95v2.05h-7.95zM415.85 616.75h7.95v2.05h-7.95zM415.85 620.07h7.95v2.05h-7.95zM415.85 623.39h7.95v2.05h-7.95zM415.85 626.71h7.95v2.05h-7.95zM415.85 630.03h7.95v2.05h-7.95zM415.85 633.35h7.95v2.05h-7.95zM415.85 636.67h7.95v2.05h-7.95zM415.85 639.99h7.95v2.05h-7.95zM415.85 643.31h7.95v2.05h-7.95zM415.85 646.63h7.95v2.05h-7.95zM415.85 649.95h7.95v2.05h-7.95zM415.85 653.27h7.95v2.05h-7.95zM415.85 656.59h7.95v2.05h-7.95zM415.85 659.91h7.95v2.05h-7.95zM415.85 663.23h7.95v2.05h-7.95zM415.85 666.55h7.95v2.05h-7.95zM415.85 669.87h7.95v2.05h-7.95zM415.85 673.19h7.95v2.05h-7.95zM415.85 676.51h7.95v2.05h-7.95zM415.85 679.83h7.95v2.05h-7.95zM415.85 683.15h7.95v2.05h-7.95zM415.85 686.47h7.95v2.05h-7.95zM415.85 689.79h7.95v2.05h-7.95zM415.85 693.11h7.95v2.05h-7.95zM415.85 696.43h7.95v2.05h-7.95zM415.85 699.75h7.95v2.05h-7.95zM415.85 703.07h7.95v2.05h-7.95zM415.85 706.39h7.95v2.05h-7.95zM415.85 709.71h7.95v2.05h-7.95zM415.85 713.03h7.95v2.05h-7.95zM415.85 716.35h7.95v2.05h-7.95zM415.85 719.67h7.95v2.05h-7.95zM415.85 722.99h7.95v2.05h-7.95zM415.85 726.31h7.95v2.05h-7.95zM415.85 729.63h7.95v2.05h-7.95zM415.85 732.95h7.95v2.05h-7.95zM415.85 736.27h7.95v2.05h-7.95zM415.85 739.59h7.95v2.05h-7.95zM415.85 742.91h7.95v2.05h-7.95zM415.85 746.23h7.95v2.05h-7.95zM415.85 749.55h7.95v2.05h-7.95zM415.85 752.87h7.95v2.05h-7.95zM415.85 756.19h7.95v2.05h-7.95zM415.85 759.51h7.95v2.05h-7.95zM415.85 762.83h7.95v2.05h-7.95zM415.85 766.15h7.95v2.05h-7.95zM415.85 769.47h7.95v2.05h-7.95zM415.85 772.79h7.95v2.05h-7.95zM415.85 776.11h7.95v2.05h-7.95zM415.85 779.43h7.95v2.05h-7.95zM415.85 782.75h7.95v2.05h-7.95zM415.85 786.07h7.95v2.05h-7.95zM415.85 789.39h7.95v2.05h-7.95zM415.85 792.71h7.95v0.59h-7.95z" fill="#000"/>
<rect x="415.85" y="582.30" width="7.95" height="1.30" fill="#000"/>
<rect x="415.85" y="582.30" width="0.70" height="211.00" fill="#000"/>
<rect x="423.80" y="581.20" width="7.95" height="212.10" fill="#fff"/>
<line x1="431.35" y1="581.20" x2="431.35" y2="793.30" stroke="#555" stroke-width="0.80"/>
<line x1="424.10" y1="581.20" x2="424.10" y2="793.30" stroke="#999" stroke-width="0.50"/>
<rect x="423.80" y="581.20" width="7.95" height="1.00" fill="#222"/>
<circle cx="425.60" cy="583.60" r="0.95" fill="#000"/>
<circle cx="426.80" cy="586.90" r="0.95" fill="#000"/>
<circle cx="430.30" cy="590.20" r="0.95" fill="#000"/>
<circle cx="428.50" cy="593.50" r="0.95" fill="#000"/>
<circle cx="425.60" cy="596.80" r="0.95" fill="#000"/>
<circle cx="426.80" cy="600.10" r="0.95" fill="#000"/>
<circle cx="430.30" cy="603.40" r="0.95" fill="#000"/>
<circle cx="428.50" cy="606.70" r="0.95" fill="#000"/>
<circle cx="425.60" cy="610.00" r="0.95" fill="#000"/>
<circle cx="426.80" cy="613.30" r="0.95" fill="#000"/>
<circle cx="430.30" cy="616.60" r="0.95" fill="#000"/>
<circle cx="428.50" cy="619.90" r="0.95" fill="#000"/>
<circle cx="425.60" cy="623.20" r="0.95" fill="#000"/>
<circle cx="426.80" cy="626.50" r="0.95" fill="#000"/>
<circle cx="430.30" cy="629.80" r="0.95" fill="#000"/>
<circle cx="428.50" cy="633.10" r="0.95" fill="#000"/>
<circle cx="425.60" cy="636.40" r="0.95" fill="#000"/>
<circle cx="426.80" cy="639.70" r="0.95" fill="#000"/>
<circle cx="430.30" cy="643.00" r="0.95" fill="#000"/>
<circle cx="428.50" cy="646.30" r="0.95" fill="#000"/>
<circle cx="425.60" cy="649.60" r="0.95" fill="#000"/>
<circle cx="426.80" cy="652.90" r="0.95" fill="#000"/>
<circle cx="430.30" cy="656.20" r="0.95" fill="#000"/>
<circle cx="428.50" cy="659.50" r="0.95" fill="#000"/>
<circle cx="425.60" cy="662.80" r="0.95" fill="#000"/>
<circle cx="426.80" cy="666.10" r="0.95" fill="#000"/>
<circle cx="430.30" cy="669.40" r="0.95" fill="#000"/>
<circle cx="428.50" cy="672.70" r="0.95" fill="#000"/>
<circle cx="425.60" cy="676.00" r="0.95" fill="#000"/>
<circle cx="426.80" cy="679.30" r="0.95" fill="#000"/>
<circle cx="430.30" cy="682.60" r="0.95" fill="#000"/>
<circle cx="428.50" cy="685.90" r="0.95" fill="#000"/>
<circle cx="425.60" cy="689.20" r="0.95" fill="#000"/>
<circle cx="426.80" cy="692.50" r="0.95" fill="#000"/>
<circle cx="430.30" cy="695.80" r="0.95" fill="#000"/>
<circle cx="428.50" cy="699.10" r="0.95" fill="#000"/>
<circle cx="425.60" cy="702.40" r="0.95" fill="#000"/>
<circle cx="426.80" cy="705.70" r="0.95" fill="#000"/>
<circle cx="430.30" cy="709.00" r="0.95" fill="#000"/>
<circle cx="428.50" cy="712.30" r="0.95" fill="#000"/>
<circle cx="425.60" cy="715.60" r="0.95" fill="#000"/>
<circle cx="426.80" cy="718.90" r="0.95" fill="#000"/>
<circle cx="430.30" cy="722.20" r="0.95" fill="#000"/>
<circle cx="428.50" cy="725.50" r="0.95" fill="#000"/>
<circle cx="425.60" cy="728.80" r="0.95" fill="#000"/>
<circle cx="426.80" cy="732.10" r="0.95" fill="#000"/>
<circle cx="430.30" cy="735.40" r="0.95" fill="#000"/>
<circle cx="428.50" cy="738.70" r="0.95" fill="#000"/>
<circle cx="425.60" cy="742.00" r="0.95" fill="#000"/>
<circle cx="426.80" cy="745.30" r="0.95" fill="#000"/>
<circle cx="430.30" cy="748.60" r="0.95" fill="#000"/>
<circle cx="428.50" cy="751.90" r="0.95" fill="#000"/>
<circle cx="425.60" cy="755.20" r="0.95" fill="#000"/>
<circle cx="426.80" cy="758.50" r="0.95" fill="#000"/>
<circle cx="430.30" cy="761.80" r="0.95" fill="#000"/>
<circle cx="428.50" cy="765.10" r="0.95" fill="#000"/>
<circle cx="425.60" cy="768.40" r="0.95" fill="#000"/>
<circle cx="426.80" cy="771.70" r="0.95" fill="#000"/>
<circle cx="430.30" cy="775.00" r="0.95" fill="#000"/>
<circle cx="428.50" cy="778.30" r="0.95" fill="#000"/>
<circle cx="425.60" cy="781.60" r="0.95" fill="#000"/>
<circle cx="426.80" cy="784.90" r="0.95" fill="#000"/>
<circle cx="430.30" cy="788.20" r="0.95" fill="#000"/>
<circle cx="428.50" cy="791.50" r="0.95" fill="#000"/>
<rect x="431.75" y="787.00" width="7.95" height="6.30" fill="url(#brB)"/>
<rect x="431.75" y="787.00" width="0.80" height="6.30" fill="#000"/>
<rect x="438.80" y="787.00" width="0.80" height="6.30" fill="#000"/>
<rect x="431.75" y="787.00" width="7.95" height="1.30" fill="#000"/>
<rect x="449.50" y="491.40" width="9.45" height="301.90" fill="#000"/>
<rect x="458.45" y="491.00" width="7.35" height="302.30" fill="#fff" stroke="#555" stroke-width="0.70"/>
<rect x="458.15" y="490.60" width="7.95" height="1.00" fill="#333"/>
<rect x="465.70" y="491.40" width="8.15" height="301.90" fill="#c6c6c6" stroke="#444" stroke-width="0.90"/>
<rect x="474.05" y="493.00" width="7.95" height="300.30" fill="#fff"/>
<rect x="473.25" y="493.00" width="1.50" height="300.30" fill="#000"/>
<rect x="476.65" y="493.00" width="1.60" height="300.30" fill="#000"/>
<rect x="480.35" y="493.00" width="1.65" height="300.30" fill="#000"/>
<rect x="474.05" y="493.00" width="7.95" height="1.10" fill="#000"/>
<rect x="482.00" y="495.00" width="7.95" height="298.30" fill="#858585"/>
<rect x="482.00" y="495.00" width="0.40" height="298.30" fill="#000"/>
<rect x="482.00" y="495.00" width="7.95" height="0.80" fill="#444"/>
<rect x="489.95" y="491.00" width="7.95" height="302.30" fill="#fff"/>
<path d="M489.95 491.00h7.95v1.64h-7.95zM489.95 493.91h7.95v2.05h-7.95zM489.95 497.23h7.95v2.05h-7.95zM489.95 500.55h7.95v2.05h-7.95zM489.95 503.87h7.95v2.05h-7.95zM489.95 507.19h7.95v2.05h-7.95zM489.95 510.51h7.95v2.05h-7.95zM489.95 513.83h7.95v2.05h-7.95zM489.95 517.15h7.95v2.05h-7.95zM489.95 520.47h7.95v2.05h-7.95zM489.95 523.79h7.95v2.05h-7.95zM489.95 527.11h7.95v2.05h-7.95zM489.95 530.43h7.95v2.05h-7.95zM489.95 533.75h7.95v2.05h-7.95zM489.95 537.07h7.95v2.05h-7.95zM489.95 540.39h7.95v2.05h-7.95zM489.95 543.71h7.95v2.05h-7.95zM489.95 547.03h7.95v2.05h-7.95zM489.95 550.35h7.95v2.05h-7.95zM489.95 553.67h7.95v2.05h-7.95zM489.95 556.99h7.95v2.05h-7.95zM489.95 560.31h7.95v2.05h-7.95zM489.95 563.63h7.95v2.05h-7.95zM489.95 566.95h7.95v2.05h-7.95zM489.95 570.27h7.95v2.05h-7.95zM489.95 573.59h7.95v2.05h-7.95zM489.95 576.91h7.95v2.05h-7.95zM489.95 580.23h7.95v2.05h-7.95zM489.95 583.55h7.95v2.05h-7.95zM489.95 586.87h7.95v2.05h-7.95zM489.95 590.19h7.95v2.05h-7.95zM489.95 593.51h7.95v2.05h-7.95zM489.95 596.83h7.95v2.05h-7.95zM489.95 600.15h7.95v2.05h-7.95zM489.95 603.47h7.95v2.05h-7.95zM489.95 606.79h7.95v2.05h-7.95zM489.95 610.11h7.95v2.05h-7.95zM489.95 613.43h7.95v2.05h-7.95zM489.95 616.75h7.95v2.05h-7.95zM489.95 620.07h7.95v2.05h-7.95zM489.95 623.39h7.95v2.05h-7.95zM489.95 626.71h7.95v2.05h-7.95zM489.95 630.03h7.95v2.05h-7.95zM489.95 633.35h7.95v2.05h-7.95zM489.95 636.67h7.95v2.05h-7.95zM489.95 639.99h7.95v2.05h-7.95zM489.95 643.31h7.95v2.05h-7.95zM489.95 646.63h7.95v2.05h-7.95zM489.95 649.95h7.95v2.05h-7.95zM489.95 653.27h7.95v2.05h-7.95zM489.95 656.59h7.95v2.05h-7.95zM489.95 659.91h7.95v2.05h-7.95zM489.95 663.23h7.95v2.05h-7.95zM489.95 666.55h7.95v2.05h-7.95zM489.95 669.87h7.95v2.05h-7.95zM489.95 673.19h7.95v2.05h-7.95zM489.95 676.51h7.95v2.05h-7.95zM489.95 679.83h7.95v2.05h-7.95zM489.95 683.15h7.95v2.05h-7.95zM489.95 686.47h7.95v2.05h-7.95zM489.95 689.79h7.95v2.05h-7.95zM489.95 693.11h7.95v2.05h-7.95zM489.95 696.43h7.95v2.05h-7.95zM489.95 699.75h7.95v2.05h-7.95zM489.95 703.07h7.95v2.05h-7.95zM489.95 706.39h7.95v2.05h-7.95zM489.95 709.71h7.95v2.05h-7.95zM489.95 713.03h7.95v2.05h-7.95zM489.95 716.35h7.95v2.05h-7.95zM489.95 719.67h7.95v2.05h-7.95zM489.95 722.99h7.95v2.05h-7.95zM489.95 726.31h7.95v2.05h-7.95zM489.95 729.63h7.95v2.05h-7.95zM489.95 732.95h7.95v2.05h-7.95zM489.95 736.27h7.95v2.05h-7.95zM489.95 739.59h7.95v2.05h-7.95zM489.95 742.91h7.95v2.05h-7.95zM489.95 746.23h7.95v2.05h-7.95zM489.95 749.55h7.95v2.05h-7.95zM489.95 752.87h7.95v2.05h-7.95zM489.95 756.19h7.95v2.05h-7.95zM489.95 759.51h7.95v2.05h-7.95zM489.95 762.83h7.95v2.05h-7.95zM489.95 766.15h7.95v2.05h-7.95zM489.95 769.47h7.95v2.05h-7.95zM489.95 772.79h7.95v2.05h-7.95zM489.95 776.11h7.95v2.05h-7.95zM489.95 779.43h7.95v2.05h-7.95zM489.95 782.75h7.95v2.05h-7.95zM489.95 786.07h7.95v2.05h-7.95zM489.95 789.39h7.95v2.05h-7.95zM489.95 792.71h7.95v0.59h-7.95z" fill="#000"/>
<rect x="489.95" y="491.00" width="7.95" height="1.30" fill="#000"/>
<rect x="489.95" y="491.00" width="0.70" height="302.30" fill="#000"/>
<rect x="497.90" y="491.40" width="7.95" height="301.90" fill="#fff"/>
<line x1="505.45" y1="491.40" x2="505.45" y2="793.30" stroke="#555" stroke-width="0.80"/>
<line x1="498.20" y1="491.40" x2="498.20" y2="793.30" stroke="#999" stroke-width="0.50"/>
<rect x="497.90" y="491.40" width="7.95" height="1.00" fill="#222"/>
<circle cx="500.90" cy="494.50" r="0.95" fill="#000"/>
<circle cx="504.40" cy="497.80" r="0.95" fill="#000"/>
<circle cx="502.60" cy="501.10" r="0.95" fill="#000"/>
<circle cx="499.70" cy="504.40" r="0.95" fill="#000"/>
<circle cx="500.90" cy="507.70" r="0.95" fill="#000"/>
<circle cx="504.40" cy="511.00" r="0.95" fill="#000"/>
<circle cx="502.60" cy="514.30" r="0.95" fill="#000"/>
<circle cx="499.70" cy="517.60" r="0.95" fill="#000"/>
<circle cx="500.90" cy="520.90" r="0.95" fill="#000"/>
<circle cx="504.40" cy="524.20" r="0.95" fill="#000"/>
<circle cx="502.60" cy="527.50" r="0.95" fill="#000"/>
<circle cx="499.70" cy="530.80" r="0.95" fill="#000"/>
<circle cx="500.90" cy="534.10" r="0.95" fill="#000"/>
<circle cx="504.40" cy="537.40" r="0.95" fill="#000"/>
<circle cx="502.60" cy="540.70" r="0.95" fill="#000"/>
<circle cx="499.70" cy="544.00" r="0.95" fill="#000"/>
<circle cx="500.90" cy="547.30" r="0.95" fill="#000"/>
<circle cx="504.40" cy="550.60" r="0.95" fill="#000"/>
<circle cx="502.60" cy="553.90" r="0.95" fill="#000"/>
<circle cx="499.70" cy="557.20" r="0.95" fill="#000"/>
<circle cx="500.90" cy="560.50" r="0.95" fill="#000"/>
<circle cx="504.40" cy="563.80" r="0.95" fill="#000"/>
<circle cx="502.60" cy="567.10" r="0.95" fill="#000"/>
<circle cx="499.70" cy="570.40" r="0.95" fill="#000"/>
<circle cx="500.90" cy="573.70" r="0.95" fill="#000"/>
<circle cx="504.40" cy="577.00" r="0.95" fill="#000"/>
<circle cx="502.60" cy="580.30" r="0.95" fill="#000"/>
<circle cx="499.70" cy="583.60" r="0.95" fill="#000"/>
<circle cx="500.90" cy="586.90" r="0.95" fill="#000"/>
<circle cx="504.40" cy="590.20" r="0.95" fill="#000"/>
<circle cx="502.60" cy="593.50" r="0.95" fill="#000"/>
<circle cx="499.70" cy="596.80" r="0.95" fill="#000"/>
<circle cx="500.90" cy="600.10" r="0.95" fill="#000"/>
<circle cx="504.40" cy="603.40" r="0.95" fill="#000"/>
<circle cx="502.60" cy="606.70" r="0.95" fill="#000"/>
<circle cx="499.70" cy="610.00" r="0.95" fill="#000"/>
<circle cx="500.90" cy="613.30" r="0.95" fill="#000"/>
<circle cx="504.40" cy="616.60" r="0.95" fill="#000"/>
<circle cx="502.60" cy="619.90" r="0.95" fill="#000"/>
<circle cx="499.70" cy="623.20" r="0.95" fill="#000"/>
<circle cx="500.90" cy="626.50" r="0.95" fill="#000"/>
<circle cx="504.40" cy="629.80" r="0.95" fill="#000"/>
<circle cx="502.60" cy="633.10" r="0.95" fill="#000"/>
<circle cx="499.70" cy="636.40" r="0.95" fill="#000"/>
<circle cx="500.90" cy="639.70" r="0.95" fill="#000"/>
<circle cx="504.40" cy="643.00" r="0.95" fill="#000"/>
<circle cx="502.60" cy="646.30" r="0.95" fill="#000"/>
<circle cx="499.70" cy="649.60" r="0.95" fill="#000"/>
<circle cx="500.90" cy="652.90" r="0.95" fill="#000"/>
<circle cx="504.40" cy="656.20" r="0.95" fill="#000"/>
<circle cx="502.60" cy="659.50" r="0.95" fill="#000"/>
<circle cx="499.70" cy="662.80" r="0.95" fill="#000"/>
<circle cx="500.90" cy="666.10" r="0.95" fill="#000"/>
<circle cx="504.40" cy="669.40" r="0.95" fill="#000"/>
<circle cx="502.60" cy="672.70" r="0.95" fill="#000"/>
<circle cx="499.70" cy="676.00" r="0.95" fill="#000"/>
<circle cx="500.90" cy="679.30" r="0.95" fill="#000"/>
<circle cx="504.40" cy="682.60" r="0.95" fill="#000"/>
<circle cx="502.60" cy="685.90" r="0.95" fill="#000"/>
<circle cx="499.70" cy="689.20" r="0.95" fill="#000"/>
<circle cx="500.90" cy="692.50" r="0.95" fill="#000"/>
<circle cx="504.40" cy="695.80" r="0.95" fill="#000"/>
<circle cx="502.60" cy="699.10" r="0.95" fill="#000"/>
<circle cx="499.70" cy="702.40" r="0.95" fill="#000"/>
<circle cx="500.90" cy="705.70" r="0.95" fill="#000"/>
<circle cx="504.40" cy="709.00" r="0.95" fill="#000"/>
<circle cx="502.60" cy="712.30" r="0.95" fill="#000"/>
<circle cx="499.70" cy="715.60" r="0.95" fill="#000"/>
<circle cx="500.90" cy="718.90" r="0.95" fill="#000"/>
<circle cx="504.40" cy="722.20" r="0.95" fill="#000"/>
<circle cx="502.60" cy="725.50" r="0.95" fill="#000"/>
<circle cx="499.70" cy="728.80" r="0.95" fill="#000"/>
<circle cx="500.90" cy="732.10" r="0.95" fill="#000"/>
<circle cx="504.40" cy="735.40" r="0.95" fill="#000"/>
<circle cx="502.60" cy="738.70" r="0.95" fill="#000"/>
<circle cx="499.70" cy="742.00" r="0.95" fill="#000"/>
<circle cx="500.90" cy="745.30" r="0.95" fill="#000"/>
<circle cx="504.40" cy="748.60" r="0.95" fill="#000"/>
<circle cx="502.60" cy="751.90" r="0.95" fill="#000"/>
<circle cx="499.70" cy="755.20" r="0.95" fill="#000"/>
<circle cx="500.90" cy="758.50" r="0.95" fill="#000"/>
<circle cx="504.40" cy="761.80" r="0.95" fill="#000"/>
<circle cx="502.60" cy="765.10" r="0.95" fill="#000"/>
<circle cx="499.70" cy="768.40" r="0.95" fill="#000"/>
<circle cx="500.90" cy="771.70" r="0.95" fill="#000"/>
<circle cx="504.40" cy="775.00" r="0.95" fill="#000"/>
<circle cx="502.60" cy="778.30" r="0.95" fill="#000"/>
<circle cx="499.70" cy="781.60" r="0.95" fill="#000"/>
<circle cx="500.90" cy="784.90" r="0.95" fill="#000"/>
<circle cx="504.40" cy="788.20" r="0.95" fill="#000"/>
<circle cx="502.60" cy="791.50" r="0.95" fill="#000"/>
<rect x="505.85" y="490.60" width="7.95" height="302.70" fill="url(#brB)"/>
<rect x="505.85" y="490.60" width="0.90" height="302.70" fill="#000"/>
<rect x="512.00" y="490.60" width="1.80" height="302.70" fill="#000"/>
<rect x="505.85" y="490.60" width="7.95" height="1.30" fill="#000"/>
<line x1="83.50" y1="784.50" x2="83.50" y2="785.90" stroke="#333" stroke-width="0.85"/>
<line x1="81.30" y1="784.50" x2="85.70" y2="784.50" stroke="#333" stroke-width="1.00"/>
<line x1="91.50" y1="782.50" x2="91.50" y2="790.50" stroke="#333" stroke-width="0.85"/>
<line x1="89.30" y1="782.50" x2="93.70" y2="782.50" stroke="#333" stroke-width="1.00"/>
<line x1="89.30" y1="790.50" x2="93.70" y2="790.50" stroke="#333" stroke-width="1.00"/>
<line x1="99.50" y1="785.50" x2="99.50" y2="786.50" stroke="#333" stroke-width="0.85"/>
<line x1="97.30" y1="785.50" x2="101.70" y2="785.50" stroke="#333" stroke-width="1.00"/>
<line x1="107.50" y1="784.50" x2="107.50" y2="786.50" stroke="#333" stroke-width="0.85"/>
<line x1="105.30" y1="784.50" x2="109.70" y2="784.50" stroke="#333" stroke-width="1.00"/>
<line x1="115.50" y1="785.50" x2="115.50" y2="786.50" stroke="#333" stroke-width="0.85"/>
<line x1="113.30" y1="785.50" x2="117.70" y2="785.50" stroke="#333" stroke-width="1.00"/>
<line x1="123.50" y1="784.50" x2="123.50" y2="787.50" stroke="#333" stroke-width="0.85"/>
<line x1="121.30" y1="784.50" x2="125.70" y2="784.50" stroke="#333" stroke-width="1.00"/>
<line x1="138.50" y1="785.50" x2="138.50" y2="787.10" stroke="#333" stroke-width="0.85"/>
<line x1="136.30" y1="785.50" x2="140.70" y2="785.50" stroke="#333" stroke-width="1.00"/>
<line x1="157.50" y1="784.50" x2="157.50" y2="787.10" stroke="#333" stroke-width="0.85"/>
<line x1="155.30" y1="784.50" x2="159.70" y2="784.50" stroke="#333" stroke-width="1.00"/>
<line x1="165.50" y1="785.50" x2="165.50" y2="786.50" stroke="#333" stroke-width="0.85"/>
<line x1="163.30" y1="785.50" x2="167.70" y2="785.50" stroke="#333" stroke-width="1.00"/>
<line x1="173.50" y1="783.50" x2="173.50" y2="787.50" stroke="#333" stroke-width="0.85"/>
<line x1="171.30" y1="783.50" x2="175.70" y2="783.50" stroke="#333" stroke-width="1.00"/>
<line x1="181.50" y1="784.50" x2="181.50" y2="787.50" stroke="#333" stroke-width="0.85"/>
<line x1="179.30" y1="784.50" x2="183.70" y2="784.50" stroke="#333" stroke-width="1.00"/>
<line x1="189.50" y1="786.50" x2="189.50" y2="788.00" stroke="#333" stroke-width="0.85"/>
<line x1="187.30" y1="786.50" x2="191.70" y2="786.50" stroke="#333" stroke-width="1.00"/>
<line x1="197.50" y1="782.50" x2="197.50" y2="785.90" stroke="#333" stroke-width="0.85"/>
<line x1="195.30" y1="782.50" x2="199.70" y2="782.50" stroke="#333" stroke-width="1.00"/>
<line x1="205.50" y1="784.50" x2="205.50" y2="787.10" stroke="#333" stroke-width="0.85"/>
<line x1="203.30" y1="784.50" x2="207.70" y2="784.50" stroke="#333" stroke-width="1.00"/>
<line x1="213.50" y1="784.50" x2="213.50" y2="787.10" stroke="#333" stroke-width="0.85"/>
<line x1="211.30" y1="784.50" x2="215.70" y2="784.50" stroke="#333" stroke-width="1.00"/>
<line x1="231.50" y1="659.50" x2="231.50" y2="662.50" stroke="#333" stroke-width="0.85"/>
<line x1="229.30" y1="659.50" x2="233.70" y2="659.50" stroke="#333" stroke-width="1.00"/>
<line x1="239.50" y1="658.50" x2="239.50" y2="670.50" stroke="#333" stroke-width="0.85"/>
<line x1="237.30" y1="658.50" x2="241.70" y2="658.50" stroke="#333" stroke-width="1.00"/>
<line x1="237.30" y1="670.50" x2="241.70" y2="670.50" stroke="#333" stroke-width="1.00"/>
<line x1="247.50" y1="663.50" x2="247.50" y2="669.50" stroke="#333" stroke-width="0.85"/>
<line x1="245.30" y1="663.50" x2="249.70" y2="663.50" stroke="#333" stroke-width="1.00"/>
<line x1="245.30" y1="669.50" x2="249.70" y2="669.50" stroke="#333" stroke-width="1.00"/>
<line x1="255.50" y1="658.50" x2="255.50" y2="662.50" stroke="#333" stroke-width="0.85"/>
<line x1="253.30" y1="658.50" x2="257.70" y2="658.50" stroke="#333" stroke-width="1.00"/>
<line x1="263.50" y1="657.50" x2="263.50" y2="659.90" stroke="#333" stroke-width="0.85"/>
<line x1="261.30" y1="657.50" x2="265.70" y2="657.50" stroke="#333" stroke-width="1.00"/>
<line x1="271.50" y1="745.50" x2="271.50" y2="748.50" stroke="#333" stroke-width="0.85"/>
<line x1="269.30" y1="745.50" x2="273.70" y2="745.50" stroke="#333" stroke-width="1.00"/>
<line x1="279.50" y1="659.50" x2="279.50" y2="661.50" stroke="#333" stroke-width="0.85"/>
<line x1="277.30" y1="659.50" x2="281.70" y2="659.50" stroke="#333" stroke-width="1.00"/>
<line x1="287.50" y1="656.50" x2="287.50" y2="659.90" stroke="#333" stroke-width="0.85"/>
<line x1="285.30" y1="656.50" x2="289.70" y2="656.50" stroke="#333" stroke-width="1.00"/>
<line x1="305.50" y1="658.50" x2="305.50" y2="664.90" stroke="#333" stroke-width="0.85"/>
<line x1="303.30" y1="658.50" x2="307.70" y2="658.50" stroke="#333" stroke-width="1.00"/>
<line x1="313.50" y1="778.50" x2="313.50" y2="785.50" stroke="#333" stroke-width="0.85"/>
<line x1="311.30" y1="778.50" x2="315.70" y2="778.50" stroke="#333" stroke-width="1.00"/>
<line x1="311.30" y1="785.50" x2="315.70" y2="785.50" stroke="#333" stroke-width="1.00"/>
<line x1="321.50" y1="658.50" x2="321.50" y2="661.50" stroke="#333" stroke-width="0.85"/>
<line x1="319.30" y1="658.50" x2="323.70" y2="658.50" stroke="#333" stroke-width="1.00"/>
<line x1="319.30" y1="661.50" x2="323.70" y2="661.50" stroke="#333" stroke-width="1.00"/>
<line x1="329.50" y1="657.50" x2="329.50" y2="658.50" stroke="#333" stroke-width="0.85"/>
<line x1="327.30" y1="657.50" x2="331.70" y2="657.50" stroke="#333" stroke-width="1.00"/>
<line x1="337.50" y1="667.50" x2="337.50" y2="671.50" stroke="#333" stroke-width="0.85"/>
<line x1="335.30" y1="667.50" x2="339.70" y2="667.50" stroke="#333" stroke-width="1.00"/>
<line x1="335.30" y1="671.50" x2="339.70" y2="671.50" stroke="#333" stroke-width="1.00"/>
<line x1="345.50" y1="664.50" x2="345.50" y2="671.50" stroke="#333" stroke-width="0.85"/>
<line x1="343.30" y1="664.50" x2="347.70" y2="664.50" stroke="#333" stroke-width="1.00"/>
<line x1="343.30" y1="671.50" x2="347.70" y2="671.50" stroke="#333" stroke-width="1.00"/>
<line x1="353.50" y1="658.50" x2="353.50" y2="665.50" stroke="#333" stroke-width="0.85"/>
<line x1="351.30" y1="658.50" x2="355.70" y2="658.50" stroke="#333" stroke-width="1.00"/>
<line x1="351.30" y1="665.50" x2="355.70" y2="665.50" stroke="#333" stroke-width="1.00"/>
<line x1="361.50" y1="772.50" x2="361.50" y2="781.50" stroke="#333" stroke-width="0.85"/>
<line x1="359.30" y1="772.50" x2="363.70" y2="772.50" stroke="#333" stroke-width="1.00"/>
<line x1="359.30" y1="781.50" x2="363.70" y2="781.50" stroke="#333" stroke-width="1.00"/>
<line x1="380.50" y1="590.50" x2="380.50" y2="591.90" stroke="#333" stroke-width="0.85"/>
<line x1="378.30" y1="590.50" x2="382.70" y2="590.50" stroke="#333" stroke-width="1.00"/>
<line x1="388.50" y1="762.50" x2="388.50" y2="766.50" stroke="#333" stroke-width="0.85"/>
<line x1="386.30" y1="762.50" x2="390.70" y2="762.50" stroke="#333" stroke-width="1.00"/>
<line x1="386.30" y1="766.50" x2="390.70" y2="766.50" stroke="#333" stroke-width="1.00"/>
<line x1="395.50" y1="581.50" x2="395.50" y2="584.50" stroke="#333" stroke-width="0.85"/>
<line x1="393.30" y1="581.50" x2="397.70" y2="581.50" stroke="#333" stroke-width="1.00"/>
<line x1="393.30" y1="584.50" x2="397.70" y2="584.50" stroke="#333" stroke-width="1.00"/>
<line x1="403.50" y1="580.50" x2="403.50" y2="582.00" stroke="#333" stroke-width="0.85"/>
<line x1="401.30" y1="580.50" x2="405.70" y2="580.50" stroke="#333" stroke-width="1.00"/>
<line x1="411.50" y1="581.50" x2="411.50" y2="589.50" stroke="#333" stroke-width="0.85"/>
<line x1="409.30" y1="581.50" x2="413.70" y2="581.50" stroke="#333" stroke-width="1.00"/>
<line x1="409.30" y1="589.50" x2="413.70" y2="589.50" stroke="#333" stroke-width="1.00"/>
<line x1="419.50" y1="581.50" x2="419.50" y2="582.80" stroke="#333" stroke-width="0.85"/>
<line x1="417.30" y1="581.50" x2="421.70" y2="581.50" stroke="#333" stroke-width="1.00"/>
<line x1="427.50" y1="577.50" x2="427.50" y2="581.70" stroke="#333" stroke-width="0.85"/>
<line x1="425.30" y1="577.50" x2="429.70" y2="577.50" stroke="#333" stroke-width="1.00"/>
<line x1="435.50" y1="784.50" x2="435.50" y2="787.50" stroke="#333" stroke-width="0.85"/>
<line x1="433.30" y1="784.50" x2="437.70" y2="784.50" stroke="#333" stroke-width="1.00"/>
<line x1="454.50" y1="487.50" x2="454.50" y2="491.90" stroke="#333" stroke-width="0.85"/>
<line x1="452.30" y1="487.50" x2="456.70" y2="487.50" stroke="#333" stroke-width="1.00"/>
<line x1="462.50" y1="489.50" x2="462.50" y2="491.10" stroke="#333" stroke-width="0.85"/>
<line x1="460.30" y1="489.50" x2="464.70" y2="489.50" stroke="#333" stroke-width="1.00"/>
<line x1="470.50" y1="487.50" x2="470.50" y2="491.50" stroke="#333" stroke-width="0.85"/>
<line x1="468.30" y1="487.50" x2="472.70" y2="487.50" stroke="#333" stroke-width="1.00"/>
<line x1="478.50" y1="487.50" x2="478.50" y2="493.50" stroke="#333" stroke-width="0.85"/>
<line x1="476.30" y1="487.50" x2="480.70" y2="487.50" stroke="#333" stroke-width="1.00"/>
<line x1="485.50" y1="493.50" x2="485.50" y2="495.50" stroke="#333" stroke-width="0.85"/>
<line x1="483.30" y1="493.50" x2="487.70" y2="493.50" stroke="#333" stroke-width="1.00"/>
<line x1="493.50" y1="490.50" x2="493.50" y2="491.50" stroke="#333" stroke-width="0.85"/>
<line x1="491.30" y1="490.50" x2="495.70" y2="490.50" stroke="#333" stroke-width="1.00"/>
<line x1="501.50" y1="490.50" x2="501.50" y2="491.90" stroke="#333" stroke-width="0.85"/>
<line x1="499.30" y1="490.50" x2="503.70" y2="490.50" stroke="#333" stroke-width="1.00"/>
<line x1="509.50" y1="488.50" x2="509.50" y2="491.10" stroke="#333" stroke-width="0.85"/>
<line x1="507.30" y1="488.50" x2="511.70" y2="488.50" stroke="#333" stroke-width="1.00"/>
<path d="M263.00 653.00V647.50H271.60V712.60" fill="none" stroke="#111" stroke-width="1.3"/>
<text transform="translate(267.50 647.34) scale(1 0.780)" font-size="16.60" text-anchor="middle" style="font-weight:normal" stroke="#0a0a0a" stroke-width="0.55">**</text>
<path d="M304.40 654.00V648.50H314.40V727.00" fill="none" stroke="#111" stroke-width="1.3"/>
<text transform="translate(310.00 648.14) scale(1 0.780)" font-size="16.60" text-anchor="middle" style="font-weight:normal" stroke="#0a0a0a" stroke-width="0.55">**</text>
<path d="M352.60 656.00V649.50H362.00V728.00" fill="none" stroke="#111" stroke-width="1.3"/>
<text transform="translate(358.20 650.74) scale(1 0.780)" font-size="16.60" text-anchor="middle" style="font-weight:normal" stroke="#0a0a0a" stroke-width="0.55">**</text>
<path d="M378.00 585.20V578.50H387.85V709.40" fill="none" stroke="#111" stroke-width="1.3"/>
<text transform="translate(382.50 579.54) scale(1 0.780)" font-size="16.60" text-anchor="middle" style="font-weight:normal" stroke="#0a0a0a" stroke-width="0.55">**</text>
<path d="M426.60 574.60V568.50H436.60V699.00" fill="none" stroke="#111" stroke-width="1.3"/>
<text transform="translate(432.40 568.94) scale(1 0.780)" font-size="16.60" text-anchor="middle" style="font-weight:normal" stroke="#0a0a0a" stroke-width="0.55">**</text>
<text x="106.20" y="815.20" font-size="13.80" text-anchor="middle">No APC</text>
<text x="189.50" y="815.20" font-size="13.60" text-anchor="middle">monocytes</text>
<text x="262.30" y="815.20" font-size="13.30" text-anchor="middle">DC</text>
<text x="329.80" y="813.90" font-size="11.45" text-anchor="middle">macrophage</text>
<text x="405.60" y="813.90" font-size="11.45" text-anchor="middle">macrophage</text>
<text x="483.00" y="813.90" font-size="11.45" text-anchor="middle">macrophage</text>
<text x="405.00" y="822.00" font-size="7.00" text-anchor="middle">-low LPS</text>
<text x="483.00" y="822.20" font-size="7.00" text-anchor="middle">-high LPS</text>
</svg>
</body></html>
